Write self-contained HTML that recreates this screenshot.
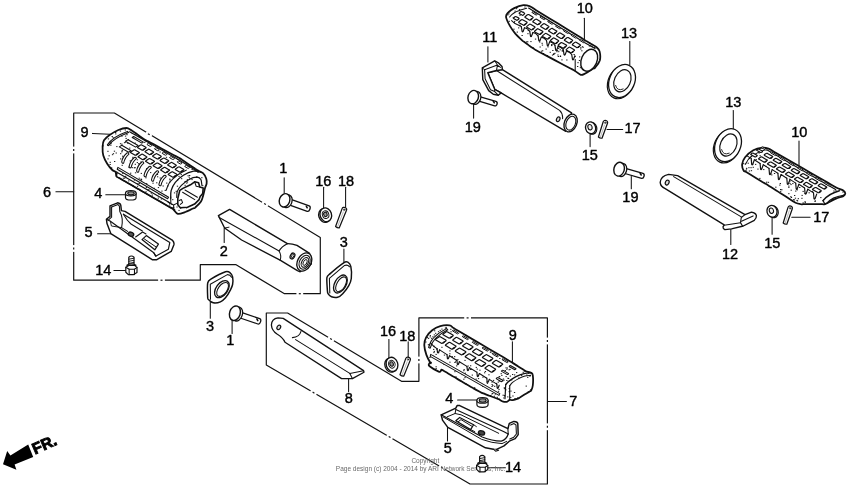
<!DOCTYPE html>
<html><head><meta charset="utf-8"><title>Parts diagram</title>
<style>
html,body{margin:0;padding:0;background:#fff;}
body{width:850px;height:492px;overflow:hidden;font-family:"Liberation Sans",sans-serif;}
svg{display:block;}
svg text{font-family:"Liberation Sans",sans-serif;}
</style></head><body>
<svg width="850" height="492" viewBox="0 0 850 492" stroke="#111" fill="none" stroke-linecap="round" stroke-linejoin="round">
<defs><filter id="gs" filterUnits="userSpaceOnUse" x="0" y="0" width="850" height="492" color-interpolation-filters="sRGB"><feColorMatrix type="saturate" values="0"/></filter></defs>
<rect x="0" y="0" width="850" height="492" fill="#fff" stroke="none"/>
<path d="M73.7,113 H114.4 L320.3,237.4 V293.7 H284.5 L235.7,264.6 H200.3 V280.2 H73.7 Z" stroke-width="1.18" fill="none" />
<path d="M266.3,313 H287.6 L401.5,381.3 H418.9 V317.9 H547.4 V484 H470 L266.3,365.1 Z" stroke-width="1.18" fill="none" />
<path d="M73.7,146.6 L73.7,153.4" stroke="#fff" stroke-width="3" stroke-linecap="butt"/>
<path d="M73.7,149.0 L73.7,151.0" stroke-width="1.2" stroke-linecap="butt"/>
<path d="M73.7,245.1 L73.7,251.9" stroke="#fff" stroke-width="3" stroke-linecap="butt"/>
<path d="M73.7,247.5 L73.7,249.5" stroke-width="1.2" stroke-linecap="butt"/>
<path d="M145.9,132.4 L151.7,136.0" stroke="#fff" stroke-width="3" stroke-linecap="butt"/>
<path d="M147.9,133.7 L149.7,134.7" stroke-width="1.2" stroke-linecap="butt"/>
<path d="M262.1,202.2 L267.9,205.8" stroke="#fff" stroke-width="3" stroke-linecap="butt"/>
<path d="M264.1,203.5 L265.9,204.5" stroke-width="1.2" stroke-linecap="butt"/>
<path d="M158.1,280.2 L164.9,280.2" stroke="#fff" stroke-width="3" stroke-linecap="butt"/>
<path d="M160.5,280.2 L162.5,280.2" stroke-width="1.2" stroke-linecap="butt"/>
<path d="M296.4,293.7 L303.2,293.7" stroke="#fff" stroke-width="3" stroke-linecap="butt"/>
<path d="M298.8,293.7 L300.8,293.7" stroke-width="1.2" stroke-linecap="butt"/>
<path d="M464.2,317.9 L471.0,317.9" stroke="#fff" stroke-width="3" stroke-linecap="butt"/>
<path d="M466.6,317.9 L468.6,317.9" stroke-width="1.2" stroke-linecap="butt"/>
<path d="M418.9,356.6 L418.9,363.4" stroke="#fff" stroke-width="3" stroke-linecap="butt"/>
<path d="M418.9,359.0 L418.9,361.0" stroke-width="1.2" stroke-linecap="butt"/>
<path d="M547.4,337.6 L547.4,344.4" stroke="#fff" stroke-width="3" stroke-linecap="butt"/>
<path d="M547.4,340.0 L547.4,342.0" stroke-width="1.2" stroke-linecap="butt"/>
<path d="M547.4,423.4 L547.4,430.2" stroke="#fff" stroke-width="3" stroke-linecap="butt"/>
<path d="M547.4,425.8 L547.4,427.8" stroke-width="1.2" stroke-linecap="butt"/>
<path d="M328.1,337.3 L333.9,340.7" stroke="#fff" stroke-width="3" stroke-linecap="butt"/>
<path d="M330.1,338.5 L331.9,339.5" stroke-width="1.2" stroke-linecap="butt"/>
<path d="M310.6,390.9 L316.4,394.4" stroke="#fff" stroke-width="3" stroke-linecap="butt"/>
<path d="M312.6,392.1 L314.4,393.2" stroke-width="1.2" stroke-linecap="butt"/>
<path d="M386.7,435.4 L392.5,438.8" stroke="#fff" stroke-width="3" stroke-linecap="butt"/>
<path d="M388.7,436.6 L390.5,437.6" stroke-width="1.2" stroke-linecap="butt"/>
<path d="M439.1,465.9 L444.9,469.4" stroke="#fff" stroke-width="3" stroke-linecap="butt"/>
<path d="M441.1,467.1 L442.9,468.2" stroke-width="1.2" stroke-linecap="butt"/>
<line x1="92.5" y1="133.4" x2="109.8" y2="134.2" stroke-width="1.05"/>
<line x1="55.9" y1="191.7" x2="73.7" y2="191.7" stroke-width="1.05"/>
<line x1="105.8" y1="194.8" x2="125.1" y2="194.8" stroke-width="1.05"/>
<line x1="97.6" y1="233.8" x2="110.8" y2="233.8" stroke-width="1.05"/>
<line x1="113.9" y1="270.4" x2="126.1" y2="270.4" stroke-width="1.05"/>
<line x1="224.2" y1="228" x2="224.2" y2="242.4" stroke-width="1.05"/>
<line x1="284.2" y1="177.8" x2="284.2" y2="193" stroke-width="1.05"/>
<line x1="323.6" y1="187.3" x2="323.6" y2="208.6" stroke-width="1.05"/>
<line x1="345.6" y1="187.3" x2="345.6" y2="207.6" stroke-width="1.05"/>
<line x1="343.9" y1="249.1" x2="343.9" y2="263.4" stroke-width="1.05"/>
<line x1="210.3" y1="299" x2="210.3" y2="318.3" stroke-width="1.05"/>
<line x1="232.1" y1="319.3" x2="232.1" y2="333.5" stroke-width="1.05"/>
<line x1="348.6" y1="378.3" x2="348.6" y2="391.5" stroke-width="1.05"/>
<line x1="388.9" y1="339.6" x2="388.9" y2="361" stroke-width="1.05"/>
<line x1="408.2" y1="341.7" x2="408.2" y2="359" stroke-width="1.05"/>
<line x1="512.4" y1="341.7" x2="512.4" y2="364" stroke-width="1.05"/>
<line x1="457.6" y1="399.9" x2="478" y2="399.9" stroke-width="1.05"/>
<line x1="447.5" y1="426.8" x2="447.5" y2="441" stroke-width="1.05"/>
<line x1="488.1" y1="467.8" x2="505.4" y2="467.8" stroke-width="1.05"/>
<line x1="547.7" y1="401.4" x2="566.4" y2="401.4" stroke-width="1.05"/>
<line x1="584.4" y1="18.3" x2="584.4" y2="39.7" stroke-width="1.05"/>
<line x1="487.9" y1="46.8" x2="487.9" y2="62" stroke-width="1.05"/>
<line x1="629.8" y1="41.4" x2="629.8" y2="64.7" stroke-width="1.05"/>
<line x1="473.6" y1="103.9" x2="473.6" y2="118.1" stroke-width="1.05"/>
<line x1="590.1" y1="133.4" x2="590.1" y2="146.6" stroke-width="1.05"/>
<line x1="607.0" y1="129.4" x2="622.7" y2="129.4" stroke-width="1.05"/>
<line x1="631.3" y1="176.6" x2="631.3" y2="188.8" stroke-width="1.05"/>
<line x1="733.3" y1="110.5" x2="733.3" y2="128.8" stroke-width="1.05"/>
<line x1="799" y1="141" x2="799" y2="165.4" stroke-width="1.05"/>
<line x1="730.8" y1="229.1" x2="730.8" y2="244.4" stroke-width="1.05"/>
<line x1="772.1" y1="218" x2="772.1" y2="234.2" stroke-width="1.05"/>
<line x1="791.8" y1="217.3" x2="810.1" y2="217.3" stroke-width="1.05"/>
<g stroke="#000" stroke-width="0.4" fill="#000" font-size="14.5px" filter="url(#gs)">
<text x="80.55" y="136.60">9</text>
<text x="43.05" y="196.70">6</text>
<text x="94.35" y="198.30">4</text>
<text x="84.55" y="237.10">5</text>
<text x="95.15" y="274.60">14</text>
<text x="219.75" y="255.50">2</text>
<text x="279.35" y="172.80">1</text>
<text x="315.15" y="186.10">16</text>
<text x="337.95" y="186.10">18</text>
<text x="339.75" y="247.10">3</text>
<text x="205.95" y="331.10">3</text>
<text x="226.15" y="345.10">1</text>
<text x="344.75" y="403.10">8</text>
<text x="379.95" y="335.70">16</text>
<text x="399.15" y="340.80">18</text>
<text x="508.75" y="339.80">9</text>
<text x="445.15" y="402.90">4</text>
<text x="443.75" y="452.90">5</text>
<text x="505.05" y="472.10">14</text>
<text x="569.15" y="405.90">7</text>
<text x="576.75" y="13.30">10</text>
<text x="482.15" y="41.80">11</text>
<text x="621.05" y="38.00">13</text>
<text x="464.75" y="131.80">19</text>
<text x="581.75" y="160.20">15</text>
<text x="624.55" y="133.30">17</text>
<text x="622.35" y="202.10">19</text>
<text x="725.15" y="106.50">13</text>
<text x="791.25" y="137.10">10</text>
<text x="722.05" y="258.70">12</text>
<text x="764.15" y="248.10">15</text>
<text x="813.15" y="222.10">17</text>
</g>
<g stroke="none" fill="#000" filter="url(#gs)">
<path d="M3,464.2 L7.2,451 L10.4,455.6 L28.2,444.4 L33.2,457 L14.6,464.6 L16.4,469.8 Z"/>
<text transform="translate(35.0,454.4) rotate(-24)" font-size="15.5px" font-weight="bold" stroke="#000" stroke-width="0.9" stroke-linejoin="miter" x="0" y="0">FR.</text>
</g>
<g stroke="none" fill="#6a6a6a" font-size="6.5px" text-anchor="middle" filter="url(#gs)">
<text x="425.3" y="463">Copyright</text>
<text x="420.6" y="470.8">Page design (c) 2004 - 2014 by ARI Network Services, Inc.</text>
</g>
<path d="M288.4,204.7 L307.2,211.3 C309.5,212.1 311.4,206.7 309.2,205.9 L290.3,199.2" stroke-width="1.30" fill="#fff" />
<path d="M306.3,206.2 l0.9,1.6" stroke-width="1.53" fill="none" />
<ellipse cx="287.3" cy="201.3" rx="4.680000000000001" ry="6.528" transform="rotate(19.4 287.3 201.3)" stroke-width="1.30" fill="#fff"/>
<ellipse cx="284.6" cy="200.3" rx="5.2" ry="6.8" transform="rotate(19.4 284.6 200.3)" stroke-width="1.42" fill="#fff"/>
<path d="M238.7,317.5 L257.9,324.0 C260.2,324.7 262.0,319.4 259.7,318.6 L240.5,312.2" stroke-width="1.30" fill="#fff" />
<path d="M256.9,319.0 l0.9,1.6" stroke-width="1.53" fill="none" />
<ellipse cx="237.6" cy="314.1" rx="4.77" ry="7.104" transform="rotate(18.7 237.6 314.1)" stroke-width="1.30" fill="#fff"/>
<ellipse cx="234.9" cy="313.2" rx="5.3" ry="7.4" transform="rotate(18.7 234.9 313.2)" stroke-width="1.42" fill="#fff"/>
<path d="M477.3,100.7 L494.7,105.8 C497.0,106.5 498.3,102.1 495.9,101.4 L478.6,96.3" stroke-width="1.30" fill="#fff" />
<path d="M493.3,101.3 l1.0,1.5" stroke-width="1.53" fill="none" />
<ellipse cx="476.0" cy="97.9" rx="4.680000000000001" ry="6.528" transform="rotate(16.4 476.0 97.9)" stroke-width="1.30" fill="#fff"/>
<ellipse cx="473.2" cy="97.1" rx="5.2" ry="6.8" transform="rotate(16.4 473.2 97.1)" stroke-width="1.42" fill="#fff"/>
<path d="M623.2,173.0 L641.6,178.3 C643.9,178.9 645.3,174.0 643.0,173.3 L624.6,168.1" stroke-width="1.30" fill="#fff" />
<path d="M640.2,173.5 l1.0,1.5" stroke-width="1.53" fill="none" />
<ellipse cx="621.9" cy="170.0" rx="4.680000000000001" ry="6.72" transform="rotate(15.9 621.9 170.0)" stroke-width="1.30" fill="#fff"/>
<ellipse cx="619.1" cy="169.2" rx="5.2" ry="7.0" transform="rotate(15.9 619.1 169.2)" stroke-width="1.42" fill="#fff"/>
<ellipse cx="324.5" cy="215.5" rx="5.7" ry="7.0" transform="rotate(-18 324.5 215.5)" stroke-width="1.30" fill="#fff"/>
<ellipse cx="325.8" cy="214.8" rx="5.7" ry="7.0" transform="rotate(-18 325.8 214.8)" stroke-width="1.36" fill="#fff"/>
<ellipse cx="325.6" cy="214.60000000000002" rx="3.1920000000000006" ry="3.9200000000000004" transform="rotate(-18 325.6 214.60000000000002)" stroke-width="0.94" fill="#fff"/>
<ellipse cx="325.40000000000003" cy="214.4" rx="1.71" ry="2.24" transform="rotate(-18 325.40000000000003 214.4)" stroke-width="1.06" fill="#999"/>
<ellipse cx="390.7" cy="365.09999999999997" rx="5.8" ry="7.2" transform="rotate(-18 390.7 365.09999999999997)" stroke-width="1.30" fill="#fff"/>
<ellipse cx="392.0" cy="364.4" rx="5.8" ry="7.2" transform="rotate(-18 392.0 364.4)" stroke-width="1.36" fill="#fff"/>
<ellipse cx="391.8" cy="364.2" rx="3.248" ry="4.032000000000001" transform="rotate(-18 391.8 364.2)" stroke-width="0.94" fill="#fff"/>
<ellipse cx="391.6" cy="364.0" rx="1.74" ry="2.3040000000000003" transform="rotate(-18 391.6 364.0)" stroke-width="1.06" fill="#999"/>
<ellipse cx="591.8000000000001" cy="128.3" rx="5.0" ry="6.0" transform="rotate(-15 591.8000000000001 128.3)" stroke-width="1.18" fill="#fff"/>
<ellipse cx="590.6" cy="127.8" rx="5.0" ry="6.0" transform="rotate(-15 590.6 127.8)" stroke-width="1.30" fill="#fff"/>
<ellipse cx="590.0" cy="127.2" rx="2.1" ry="2.7600000000000002" transform="rotate(-15 590.0 127.2)" stroke-width="1.06" fill="#eee"/>
<ellipse cx="773.2" cy="211.8" rx="5.0" ry="6.0" transform="rotate(-15 773.2 211.8)" stroke-width="1.18" fill="#fff"/>
<ellipse cx="772.0" cy="211.3" rx="5.0" ry="6.0" transform="rotate(-15 772.0 211.3)" stroke-width="1.30" fill="#fff"/>
<ellipse cx="771.4" cy="210.70000000000002" rx="2.1" ry="2.7600000000000002" transform="rotate(-15 771.4 210.70000000000002)" stroke-width="1.06" fill="#eee"/>
<path d="M335.6,226.5 L342.1,208.6 C343.1,206.0 347.5,207.7 346.5,210.3 L339.2,227.9 Q337.1,228.0 335.6,226.5 Z" stroke-width="1.24" fill="#fff" />
<path d="M343.3,211.9 L337.6,226.6" stroke="#8a8a8a" stroke-width="0.6"/>
<ellipse cx="344.2" cy="209.7" rx="0.7" ry="0.9" transform="rotate(0 344.2 209.7)" stroke-width="0.71" fill="#fff"/>
<path d="M400.0,374.7 L405.8,358.4 C406.8,355.8 411.3,357.5 410.3,360.1 L403.8,376.1 Q401.6,376.2 400.0,374.7 Z" stroke-width="1.24" fill="#fff" />
<path d="M407.2,361.7 L402.1,374.8" stroke="#8a8a8a" stroke-width="0.6"/>
<ellipse cx="408.0" cy="359.5" rx="0.7" ry="0.9" transform="rotate(0 408.0 359.5)" stroke-width="0.71" fill="#fff"/>
<path d="M598.4,137.0 L603.2,121.8 C604.1,119.1 608.4,120.6 607.5,123.2 L602.0,138.2 Q599.9,138.5 598.4,137.0 Z" stroke-width="1.24" fill="#fff" />
<path d="M604.5,125.0 L600.4,137.0" stroke="#8a8a8a" stroke-width="0.6"/>
<ellipse cx="605.3" cy="122.7" rx="0.7" ry="0.9" transform="rotate(0 605.3 122.7)" stroke-width="0.71" fill="#fff"/>
<path d="M783.2,223.0 L788.0,207.4 C788.9,204.7 793.2,206.2 792.3,208.8 L786.8,224.2 Q784.7,224.5 783.2,223.0 Z" stroke-width="1.24" fill="#fff" />
<path d="M789.3,210.6 L785.2,223.0" stroke="#8a8a8a" stroke-width="0.6"/>
<ellipse cx="790.1" cy="208.3" rx="0.7" ry="0.9" transform="rotate(0 790.1 208.3)" stroke-width="0.71" fill="#fff"/>
<path d="M125.50000000000001,193.2 v4.2 a5.3,2.6 0 0 0 10.6,0 v-4.2" stroke-width="1.18" fill="#fff" />
<ellipse cx="130.8" cy="193.2" rx="5.3" ry="2.6" transform="rotate(0 130.8 193.2)" stroke-width="1.18" fill="#fff"/>
<ellipse cx="131.0" cy="193.29999999999998" rx="3.286" ry="1.56" transform="rotate(0 131.0 193.29999999999998)" stroke-width="1.06" fill="#999"/>
<path d="M476.9,400.4 v4.2 a5.6,2.8 0 0 0 11.2,0 v-4.2" stroke-width="1.18" fill="#fff" />
<ellipse cx="482.5" cy="400.4" rx="5.6" ry="2.8" transform="rotate(0 482.5 400.4)" stroke-width="1.18" fill="#fff"/>
<ellipse cx="482.7" cy="400.5" rx="3.472" ry="1.68" transform="rotate(0 482.7 400.5)" stroke-width="1.06" fill="#999"/>
<path d="M128.8,264.6 V257.2 Q131.4,254.8 134.0,257.2 V264.6" stroke-width="1.18" fill="#fff" />
<path d="M128.8,259.2 L134.0,258.2" stroke-width="0.94" fill="none" />
<path d="M128.8,261.3 L134.0,260.3" stroke-width="0.94" fill="none" />
<path d="M128.8,263.4 L134.0,262.4" stroke-width="0.94" fill="none" />
<path d="M126.80000000000001,265.20000000000005 Q131.4,262.40000000000003 136.0,265.20000000000005 Q131.4,267.8 126.80000000000001,265.20000000000005 Z" stroke-width="1.18" fill="#fff" />
<path d="M125.80000000000001,267.20000000000005 L128.88,265.40000000000003 L134.48000000000002,265.40000000000003 L137.0,267.40000000000003 L137.0,272.40000000000003 L133.64000000000001,274.6 L128.32,274.6 L125.80000000000001,272.20000000000005 Z" stroke-width="1.18" fill="#fff" />
<path d="M125.80000000000001,267.20000000000005 L129.16,269.20000000000005 L134.48000000000002,269.20000000000005 L137.0,267.40000000000003" stroke-width="1.06" fill="none" />
<path d="M129.16,269.20000000000005 V274.6 M134.48000000000002,269.20000000000005 V274.6" stroke-width="1.06" fill="none" />
<path d="M479.59999999999997,462.6 V456.59999999999997 Q482.2,454.2 484.8,456.59999999999997 V462.6" stroke-width="1.18" fill="#fff" />
<path d="M479.59999999999997,458.6 L484.8,457.6" stroke-width="0.94" fill="none" />
<path d="M479.59999999999997,460.7 L484.8,459.7" stroke-width="0.94" fill="none" />
<path d="M477.59999999999997,463.20000000000005 Q482.2,460.40000000000003 486.8,463.20000000000005 Q482.2,465.8 477.59999999999997,463.20000000000005 Z" stroke-width="1.18" fill="#fff" />
<path d="M476.59999999999997,465.20000000000005 L479.68,463.40000000000003 L485.28,463.40000000000003 L487.8,465.40000000000003 L487.8,469.6 L484.44,471.8 L479.12,471.8 L476.59999999999997,469.40000000000003 Z" stroke-width="1.18" fill="#fff" />
<path d="M476.59999999999997,465.20000000000005 L479.96,467.20000000000005 L485.28,467.20000000000005 L487.8,465.40000000000003" stroke-width="1.06" fill="none" />
<path d="M479.96,467.20000000000005 V471.8 M485.28,467.20000000000005 V471.8" stroke-width="1.06" fill="none" />
<path d="M326.9,277.6 C327.3,275.3 328.3,275.4 330.5,273.4 C332.7,271.4 341.4,264.3 343.7,262.8 C346.0,261.3 346.9,261.7 347.8,262.2 C348.7,262.7 350.3,264.1 350.8,266.3 C351.3,268.5 351.6,275.9 351.3,278.5 C351.0,281.1 349.9,283.6 348.8,285.6 C347.7,287.6 344.2,292.1 342.7,293.7 C341.2,295.3 339.1,296.9 337.6,297.3 C336.1,297.7 332.8,297.3 331.5,296.8 C330.2,296.3 328.5,294.5 328.0,293.7 C327.5,292.9 327.5,292.8 327.4,290.7 C327.3,288.6 326.5,279.9 326.9,277.6 Z" stroke-width="1.47" fill="#fff" />
<path d="M329.4,278.4 L344.6,265.4 Q347.6,264.4 349.6,266.8 M329.4,278.4 L329.8,293.0" stroke-width="1.06" fill="none" />
<ellipse cx="340.4" cy="284.0" rx="5.6" ry="9.8" transform="rotate(30 340.4 284.0)" stroke-width="1.36" fill="#fff"/>
<ellipse cx="341.1" cy="284.3" rx="4.199999999999999" ry="8.200000000000001" transform="rotate(30 341.1 284.3)" stroke-width="1.06" fill="#fff"/>
<path d="M207.7,283.0 C208.2,280.5 208.9,280.4 211.3,278.9 C213.7,277.4 223.0,272.6 225.5,271.8 C228.0,271.0 229.2,272.1 230.1,272.8 C231.0,273.5 232.3,275.3 232.6,276.9 C232.9,278.5 232.9,282.8 232.6,284.5 C232.3,286.2 231.5,287.8 230.6,289.6 C229.7,291.4 226.9,296.1 225.5,297.7 C224.1,299.3 222.0,301.1 220.4,301.8 C218.8,302.5 214.9,303.1 213.3,302.8 C211.7,302.5 209.4,300.4 208.7,299.7 C208.0,299.0 207.8,299.9 207.7,297.7 C207.6,295.5 207.2,285.5 207.7,283.0 Z" stroke-width="1.47" fill="#fff" />
<path d="M210.3,284.2 L227.4,274.6 Q230.2,274.6 231.6,277.2 M210.3,284.2 L210.5,299.2" stroke-width="1.06" fill="none" />
<ellipse cx="221.9" cy="289.1" rx="5.8" ry="9.6" transform="rotate(36 221.9 289.1)" stroke-width="1.36" fill="#fff"/>
<ellipse cx="222.6" cy="289.4" rx="4.4" ry="8.0" transform="rotate(36 222.6 289.4)" stroke-width="1.06" fill="#fff"/>
<ellipse cx="620.8" cy="82.2" rx="12.6" ry="17.2" transform="rotate(24 620.8 82.2)" stroke-width="1.18" fill="#fff"/>
<ellipse cx="622.0" cy="81.0" rx="12.6" ry="17.2" transform="rotate(24 622.0 81.0)" stroke-width="1.30" fill="#fff"/>
<ellipse cx="622.4" cy="80.8" rx="8.0" ry="11.6" transform="rotate(24 622.4 80.8)" stroke-width="1.18" fill="#fff"/>
<path d="M615.6,85.4 Q617.0,91.6 623.2,89.0" stroke-width="0.9"/>
<ellipse cx="726.8" cy="146.39999999999998" rx="12.6" ry="17.2" transform="rotate(24 726.8 146.39999999999998)" stroke-width="1.18" fill="#fff"/>
<ellipse cx="728.0" cy="145.2" rx="12.6" ry="17.2" transform="rotate(24 728.0 145.2)" stroke-width="1.30" fill="#fff"/>
<ellipse cx="728.4" cy="145.0" rx="8.0" ry="11.6" transform="rotate(24 728.4 145.0)" stroke-width="1.18" fill="#fff"/>
<path d="M721.6,149.6 Q723.0,155.8 729.2,153.2" stroke-width="0.9"/>
<path d="M218.4,215.6 L229.6,209.4 L287.4,243.7 Q292,243.6 297.0,245.4 L309.6,253.4 L311.4,264.0 L300.2,271.8 L297.4,270.7 L280.1,260.2 L241.6,240.0 L224.6,228.0 Z" stroke-width="1.36" fill="#fff" />
<path d="M219.2,217.4 L279.1,251.0 Q281.6,246.4 287.4,243.7" stroke-width="1.12" fill="none" />
<path d="M279.1,251.0 Q281.8,255.8 280.1,260.2" stroke-width="1.06" fill="none" />
<path d="M224.6,228.0 L229,227.2" stroke-width="0.94" fill="none" />
<ellipse cx="304.3" cy="262.0" rx="6.8" ry="9.6" transform="rotate(28 304.3 262.0)" stroke-width="1.36" fill="#fff"/>
<ellipse cx="304.6" cy="262.2" rx="5.0" ry="7.4" transform="rotate(28 304.6 262.2)" stroke-width="1.06" fill="#fff"/>
<ellipse cx="304.9" cy="262.4" rx="3.2" ry="5.2" transform="rotate(28 304.9 262.4)" stroke-width="1.06" fill="#eee"/>
<ellipse cx="305.1" cy="262.5" rx="1.7" ry="3.2" transform="rotate(28 305.1 262.5)" stroke-width="0.83" fill="#fff"/>
<ellipse cx="292.5" cy="256.0" rx="2.1" ry="3.1" transform="rotate(28 292.5 256.0)" stroke-width="1.30" fill="#ddd"/>
<ellipse cx="292.8" cy="256.1" rx="1.0" ry="1.9" transform="rotate(28 292.8 256.1)" stroke-width="0.83" fill="#fff"/>
<path d="M271.4,325.0 Q271.6,318.6 278.0,317.8 L283.2,318.4 L363.6,370.6 L364.0,372.2 L352.4,378.6 L341.6,378.6 L285.0,342.2 Q283.0,337.6 277.0,334.0 Q271.8,330.6 271.4,325.0 Z" stroke-width="1.30" fill="#fff" />
<path d="M292.4,337.6 Q299.4,337.2 301.0,331.4" stroke-width="1.06" fill="none" />
<path d="M295.6,339.6 L349.8,373.4 L363.6,370.8" stroke-width="1.06" fill="none" />
<path d="M349.8,373.4 L352.4,378.6" stroke-width="1.06" fill="none" />
<ellipse cx="278.8" cy="327.4" rx="1.7" ry="2.4" transform="rotate(30 278.8 327.4)" stroke-width="1.18" fill="#ddd"/>
<path d="M502.4,69.6 L571.6,112.8 L565.8,131.4 L501.1,92.9 L494.7,89.3 L487.8,72.8 L496.5,70.5 Z" stroke-width="1.36" fill="#fff" />
<path d="M496.5,70.5 L559.6,110.4 Q563.0,113.6 562.6,118.6" stroke-width="1.06" fill="none" />
<path d="M482.8,79.7 L482.3,67.8 L494.7,60.9 L498.8,63.2 L502.0,66.4 L502.4,69.6 L496.5,70.5 L487.8,72.8 L494.7,89.3 L501.1,92.9 L498.3,95.2 L493.3,94.3 L488.7,90.6 Z" stroke-width="1.42" fill="#fff" />
<path d="M484.6,69.8 L497.4,65.1 L500.4,67.4 M497.4,65.1 L496.5,70.5" stroke-width="1.06" fill="none" />
<path d="M484.6,69.8 L485.1,78.8 L490.5,89.7 L494.7,91.6 L498.3,95.2 M494.7,91.6 L494.7,89.3" stroke-width="1.06" fill="none" />
<path d="M482.3,67.8 L484.6,69.8 M494.7,60.9 L497.4,65.1" stroke-width="0.94" fill="none" />
<ellipse cx="570.6" cy="123.0" rx="6.2" ry="9.2" transform="rotate(22 570.6 123.0)" stroke-width="1.36" fill="#fff"/>
<ellipse cx="570.8" cy="123.2" rx="4.6" ry="7.2" transform="rotate(22 570.8 123.2)" stroke-width="1.06" fill="#fff"/>
<ellipse cx="558.2" cy="119.2" rx="1.6" ry="2.5" transform="rotate(25 558.2 119.2)" stroke-width="1.18" fill="#ddd"/>
<path d="M660.2,182.4 Q660.6,176.2 668.6,174.4 L677.6,175.6 L745.0,214.6 L751.5,212.2 Q755.6,212.6 756.4,215.6 Q756.6,218.4 754.3,220.3 L743.3,226.0 L731.5,228.9 L725.0,229.7 Q722.8,228.6 723.0,226.8 L724.2,224.8 L665.2,188.6 Q660.4,186.4 660.2,182.4 Z" stroke-width="1.36" fill="#fff" />
<path d="M673.6,176.6 L741.3,216.9" stroke-width="1.06" fill="none" />
<path d="M745.0,214.6 L741.3,217.5 L740.5,222.6 L742.5,226.0" stroke-width="1.12" fill="none" />
<path d="M741.5,221.2 L753.1,215.9" stroke-width="1.06" fill="none" />
<path d="M724.2,225.2 L740.5,222.8" stroke-width="1.06" fill="none" />
<ellipse cx="667.2" cy="182.6" rx="1.8" ry="2.5" transform="rotate(25 667.2 182.6)" stroke-width="1.18" fill="#ddd"/>
<path d="M110.0,205.8 L117.6,202.8 Q120.4,203.2 120.8,205.4 L121.4,210.6 L125.0,211.4 L172.6,240.4 Q174.6,242.6 173.8,245.0 L171.2,251.4 L156.4,259.8 L152.6,259.8 L110.8,233.6 L107.0,223.6 L106.4,219.2 L110.0,216.4 Z" stroke-width="1.42" fill="#fff" />
<path d="M111.6,207.0 L118.0,204.6 L119.4,206.2 L119.8,211.6 Q123.6,218.0 121.6,227.6" stroke-width="1.06" fill="none" />
<path d="M111.6,207.0 L111.6,217.2 L108.6,219.8" stroke-width="1.06" fill="none" />
<path d="M106.6,219.4 L110.4,221.2 L153.8,252.8 L156.0,256.0" stroke-width="1.18" fill="none" />
<path d="M110.4,221.2 L111.4,226.0 L121.6,227.6" stroke-width="0.94" fill="none" />
<path d="M123.4,214.2 L169.8,242.6 L168.4,249.2 L155.6,256.2 L153.8,252.8" stroke-width="1.18" fill="none" />
<path d="M123.4,214.2 Q127.0,220.6 131.0,224.0 L142.4,231.0" stroke-width="1.06" fill="none" />
<path d="M121.6,227.6 L127.6,231.4 M135.6,237.0 L142.6,232.0 L146.0,234.0" stroke-width="1.06" fill="none" />
<path d="M142.0,239.6 L146.3,235.6 L158.4,244.1 L154.8,249.8 Z" stroke-width="1.24" fill="#fff" />
<path d="M144.4,239.0 L155.8,246.8" stroke-width="1.00" fill="none" />
<ellipse cx="131.0" cy="234.2" rx="2.8" ry="2.0" transform="rotate(20 131.0 234.2)" stroke-width="1.30" fill="#555"/>
<path d="M441.2,414.8 L455.8,408.2 L457.1,405.6 L459.7,405.6 L507.9,428.7 L509.3,423.4 L513.9,421.4 Q517.6,421.6 517.8,423.6 L518.2,434.6 L515.2,438.6 L509.3,441.2 L504.0,445.9 L496.1,449.6 L493.4,449.2 L485.5,447.8 L447.8,427.4 L442.5,420.1 Z" stroke-width="1.47" fill="#fff" />
<path d="M441.2,414.8 L482.2,437.0 Q492.0,441.0 501.3,441.2 Q506.6,439.4 508.2,434.0" stroke-width="1.24" fill="none" />
<path d="M443.2,417.0 L481.5,439.3 Q492.0,443.2 502.0,443.6 L506.6,441.4" stroke-width="1.00" fill="none" />
<path d="M455.8,409.5 L504.0,431.7 L508.2,434.0" stroke-width="1.18" fill="none" />
<path d="M455.8,409.5 L455.1,413.5 L447.2,416.8 M455.1,413.5 L461.0,414.8 L498.7,433.3" stroke-width="1.00" fill="none" />
<path d="M510.6,425.0 L514.0,423.6 L516.0,425.0 L516.4,434.0 L513.8,437.2 L509.8,439.0 M507.9,428.7 L508.2,434.0" stroke-width="1.06" fill="none" />
<path d="M455.8,420.8 L459.7,417.5 L473.6,424.7 L470.6,429.6 Z" stroke-width="1.24" fill="#fff" />
<path d="M458.4,421.6 L461.0,419.6 L471.8,426.2" stroke-width="1.00" fill="none" />
<path d="M473.6,424.7 L476.4,426.6 M470.6,429.6 L474.8,431.6" stroke-width="0.94" fill="none" />
<ellipse cx="481.5" cy="432.9" rx="3.2" ry="2.0" transform="rotate(15 481.5 432.9)" stroke-width="1.30" fill="#444"/>
<path d="M493.4,449.2 L495.6,451.2 L498.6,450.2 L496.1,449.6" stroke-width="1.06" fill="#fff" />
<path d="M112.3,170.0 C110.9,168.6 108.7,166.1 107.2,163.7 C105.7,161.3 104.1,158.5 103.3,155.6 C102.5,152.7 102.5,148.9 102.6,146.4 C102.7,143.9 102.8,142.2 104.0,140.3 C105.2,138.4 107.2,136.7 109.6,135.0 C112.0,133.3 115.6,131.2 118.4,130.0 C121.2,128.8 124.4,128.0 126.5,128.0 C128.6,128.0 130.0,129.5 131.0,130.0 C132.0,130.5 131.5,130.3 132.5,131.1 C133.6,131.8 135.8,133.4 137.4,134.5 C139.0,135.6 141.2,137.2 142.3,137.9 C143.3,138.7 142.8,138.4 143.8,139.0 C144.8,139.6 145.1,139.7 148.1,141.3 C151.2,142.9 157.3,146.2 161.9,148.7 C166.5,151.2 172.6,154.5 175.7,156.1 C178.7,157.7 178.9,157.8 180.0,158.4 C181.1,159.0 180.6,158.8 182.0,159.8 C183.5,160.8 186.3,162.7 188.5,164.2 C190.7,165.7 193.5,167.6 195.0,168.6 C196.4,169.6 195.7,169.2 197.0,170.0 C198.3,170.8 201.5,171.8 203.0,173.2 C204.5,174.6 205.6,176.8 206.2,178.5 C206.8,180.2 206.8,182.1 206.6,183.6 C206.4,185.1 205.8,185.6 205.2,187.6 C204.6,189.6 203.9,193.1 203.2,195.4 C202.5,197.7 202.3,199.5 201.0,201.5 C199.7,203.5 196.3,206.5 195.1,207.6 C193.9,208.7 194.7,207.8 193.9,208.2 C193.0,208.5 191.3,209.3 190.1,209.9 C188.8,210.5 187.1,211.3 186.2,211.6 C185.4,212.0 186.4,211.8 185.0,212.2 C183.6,212.6 179.8,214.3 177.8,213.8 C175.8,213.3 174.5,210.2 173.0,209.0 C171.5,207.8 171.8,208.3 169.0,206.7 C166.3,205.1 160.7,201.9 156.5,199.5 C152.3,197.1 146.7,193.9 144.0,192.3 C141.2,190.7 141.1,190.7 140.0,190.0 C138.9,189.3 139.1,189.5 137.2,188.4 C135.2,187.2 131.2,184.9 128.2,183.2 C125.2,181.5 121.2,179.2 119.2,178.0 C117.3,176.9 117.0,177.4 116.4,176.4 C115.8,175.4 116.3,173.1 115.6,172.0 C114.9,170.9 113.7,171.4 112.3,170.0 Z" stroke-width="1.77" fill="#fff" />
<path d="M127.3,174.7h0.3M141.1,179.8h0.3M129.6,148.1h0.3M168.6,202.5h0.3M157.0,191.6h0.3M181.5,178.7h0.3M192.6,168.6h0.3M177.4,203.4h0.3M176.9,207.0h0.3M116.7,146.6h0.3M139.1,178.2h0.3M173.5,207.7h0.3M196.7,176.8h0.3M189.1,177.2h0.3M132.2,133.4h0.3M145.3,140.9h0.3M134.8,134.6h0.3M123.1,163.0h0.3M150.5,172.6h0.3M169.6,179.1h0.3M160.8,181.2h0.3M147.4,189.8h0.3M127.3,153.8h0.3M145.8,177.8h0.3M176.1,191.3h0.3M128.7,167.2h0.3M141.0,179.1h0.3M133.8,160.4h0.3M161.8,191.1h0.3M122.1,165.3h0.3M137.6,183.8h0.3M126.0,138.4h0.3M186.5,199.9h0.3M121.7,151.9h0.3M186.6,183.1h0.3M116.1,153.0h0.3M138.6,163.8h0.3M180.1,199.8h0.3M132.7,157.3h0.3M126.3,133.8h0.3M196.6,187.5h0.3M196.2,177.5h0.3M120.5,153.7h0.3M166.3,157.3h0.3M152.2,195.1h0.3M158.2,198.1h0.3M198.5,197.2h0.3M168.0,202.0h0.3M107.8,151.3h0.3M130.5,173.2h0.3M146.6,168.6h0.3M108.3,138.9h0.3M115.6,133.9h0.3M139.1,183.5h0.3M122.5,156.2h0.3M110.9,143.3h0.3M141.4,179.9h0.3M185.9,181.4h0.3M154.2,188.3h0.3M146.3,187.6h0.3M158.3,187.6h0.3M110.0,164.5h0.3M196.0,195.9h0.3M129.9,167.8h0.3M171.5,204.1h0.3M185.0,185.3h0.3M178.9,176.4h0.3M112.1,136.5h0.3M172.6,199.7h0.3M201.7,177.7h0.3M180.5,208.2h0.3M109.0,155.8h0.3M161.3,199.0h0.3M127.8,143.4h0.3M128.6,180.9h0.3M140.8,162.0h0.3M139.0,163.9h0.3M174.4,192.9h0.3M152.9,183.2h0.3M197.9,172.4h0.3M148.7,189.7h0.3M122.0,150.9h0.3M123.3,178.2h0.3M174.5,209.8h0.3M125.2,130.0h0.3M120.5,158.9h0.3M152.5,179.4h0.3M188.0,175.8h0.3M152.7,189.8h0.3M178.9,210.4h0.3M122.3,150.2h0.3M191.9,205.2h0.3M135.2,164.3h0.3M132.9,158.6h0.3M163.0,186.0h0.3M148.0,169.7h0.3M124.5,178.2h0.3M182.9,193.0h0.3M133.3,186.0h0.3M170.6,197.2h0.3M202.6,185.7h0.3M177.3,186.2h0.3M169.7,182.1h0.3M164.7,175.6h0.3M135.1,143.1h0.3M181.1,174.6h0.3M179.5,158.8h0.3M130.2,160.9h0.3M137.2,162.6h0.3M158.9,194.2h0.3M114.3,151.2h0.3M113.0,137.7h0.3M183.6,190.4h0.3M121.8,144.2h0.3M145.9,191.8h0.3M187.4,192.2h0.3M157.5,176.8h0.3M123.6,149.5h0.3M186.1,204.5h0.3M160.1,178.0h0.3M192.0,169.5h0.3M165.1,190.4h0.3M122.7,173.4h0.3M185.0,181.5h0.3M107.9,158.9h0.3M126.9,134.7h0.3M191.9,179.6h0.3M199.0,189.4h0.3M186.5,207.9h0.3M110.7,145.2h0.3M119.3,170.7h0.3M146.5,183.7h0.3M134.3,167.8h0.3M177.4,159.5h0.3M141.2,173.4h0.3M102.9,145.9h0.3M124.4,142.7h0.3M144.6,142.4h0.3M120.1,170.1h0.3M125.4,136.1h0.3M115.5,132.5h0.3M128.6,150.8h0.3M187.3,182.0h0.3M138.5,136.0h0.3M120.3,131.1h0.3M186.2,206.7h0.3M134.3,180.1h0.3M114.5,161.5h0.3M137.4,186.3h0.3M179.5,191.0h0.3M189.5,175.5h0.3M130.6,142.6h0.3M177.5,180.0h0.3M151.2,193.1h0.3M169.4,203.4h0.3M195.9,190.9h0.3M137.3,159.8h0.3M110.1,162.3h0.3M127.6,132.2h0.3M125.5,176.3h0.3M165.5,195.7h0.3M121.1,134.8h0.3M111.5,167.9h0.3M166.6,183.1h0.3M181.8,202.8h0.3M138.6,179.7h0.3M189.5,179.0h0.3M138.6,169.6h0.3M170.0,180.0h0.3M124.9,158.1h0.3M125.3,142.2h0.3M199.4,190.3h0.3M121.8,136.2h0.3M156.6,182.8h0.3M131.3,165.1h0.3M113.3,153.7h0.3M141.3,141.8h0.3M135.0,167.7h0.3M157.3,174.5h0.3M132.3,167.7h0.3M194.8,197.3h0.3M116.3,173.5h0.3M107.8,145.5h0.3M112.4,154.7h0.3M167.9,185.9h0.3M197.5,197.4h0.3M128.3,139.6h0.3M181.5,195.7h0.3M160.0,152.0h0.3M169.5,205.0h0.3M171.8,207.7h0.3M187.3,179.7h0.3M145.7,172.5h0.3M120.4,143.7h0.3M139.2,167.0h0.3M135.4,172.8h0.3" stroke-width="0.9" stroke="#000" stroke-linecap="square"/>
<path d="M129.6,131.8 L180.0,160.6 L196.6,171.0" stroke-width="1.18" fill="none" />
<path d="M107.4,144.8 Q112.0,137.0 127.4,131.4 L128.6,132.6 Q113.0,138.6 108.6,145.6 Z" stroke-width="1.06" fill="#fff" />
<path d="M133.7,136.5 L143.4,142.1 L141.9,143.1 L132.2,137.5 Z" stroke-width="1.06" fill="#fff" />
<path d="M128.0,139.7 L138.1,145.5 L135.6,147.1 L125.5,141.3 Z" stroke-width="1.06" fill="#fff" />
<path d="M121.8,145.3 L131.1,150.7 L128.6,152.3 L119.3,146.9 Z" stroke-width="1.06" fill="#fff" />
<path d="M147.9,143.5 Q148.3,143.2 148.8,143.5 L151.7,145.2 Q152.1,145.5 151.7,145.7 L150.9,146.3 Q150.5,146.6 150.0,146.3 L147.1,144.6 Q146.7,144.3 147.1,144.1 Z" stroke-width="1.00" fill="#fff" />
<path d="M155.5,147.9 Q155.9,147.6 156.3,147.9 L159.3,149.6 Q159.7,149.9 159.3,150.1 L158.4,150.7 Q158.0,151.0 157.6,150.7 L154.6,149.0 Q154.2,148.7 154.6,148.5 Z" stroke-width="1.00" fill="#fff" />
<path d="M163.0,152.3 Q163.4,152.0 163.9,152.3 L166.8,154.0 Q167.2,154.3 166.8,154.5 L166.0,155.1 Q165.6,155.4 165.1,155.1 L162.2,153.4 Q161.8,153.1 162.2,152.9 Z" stroke-width="1.00" fill="#fff" />
<path d="M170.6,156.7 Q171.0,156.4 171.4,156.7 L174.4,158.4 Q174.8,158.7 174.4,158.9 L173.5,159.5 Q173.1,159.8 172.7,159.5 L169.7,157.8 Q169.3,157.5 169.7,157.3 Z" stroke-width="1.00" fill="#fff" />
<path d="M178.1,161.1 Q178.5,160.8 179.0,161.1 L181.9,162.8 Q182.3,163.1 181.9,163.3 L181.1,163.9 Q180.7,164.2 180.2,163.9 L177.3,162.2 Q176.9,161.9 177.3,161.7 Z" stroke-width="1.00" fill="#fff" />
<path d="M185.7,165.5 Q186.1,165.2 186.5,165.5 L189.5,167.2 Q189.9,167.5 189.5,167.7 L188.6,168.3 Q188.2,168.6 187.8,168.3 L184.8,166.6 Q184.4,166.3 184.8,166.1 Z" stroke-width="1.00" fill="#fff" />
<path d="M140.5,145.1 Q141.2,144.6 141.8,145.0 L145.8,147.3 Q146.4,147.7 145.8,148.1 L143.1,149.9 Q142.4,150.4 141.8,150.0 L137.8,147.7 Q137.2,147.3 137.8,146.9 Z" stroke-width="1.18" fill="#fff" />
<path d="M144.4,149.0 L143.4,149.7" stroke-width="1.53" fill="none" />
<path d="M148.1,149.5 Q148.7,149.0 149.4,149.4 L153.3,151.7 Q154.0,152.1 153.4,152.5 L150.6,154.3 Q150.0,154.8 149.3,154.4 L145.4,152.1 Q144.7,151.7 145.3,151.3 Z" stroke-width="1.18" fill="#fff" />
<path d="M152.0,153.4 L151.0,154.1" stroke-width="1.53" fill="none" />
<path d="M155.6,153.9 Q156.3,153.4 156.9,153.8 L160.9,156.1 Q161.5,156.5 160.9,156.9 L158.2,158.7 Q157.5,159.2 156.9,158.8 L152.9,156.5 Q152.3,156.1 152.9,155.7 Z" stroke-width="1.18" fill="#fff" />
<path d="M159.5,157.8 L158.5,158.5" stroke-width="1.53" fill="none" />
<path d="M163.2,158.3 Q163.8,157.8 164.5,158.2 L168.4,160.5 Q169.1,160.9 168.5,161.3 L165.7,163.1 Q165.1,163.6 164.4,163.2 L160.5,160.9 Q159.8,160.5 160.4,160.1 Z" stroke-width="1.18" fill="#fff" />
<path d="M167.1,162.2 L166.1,162.9" stroke-width="1.53" fill="none" />
<path d="M170.7,162.7 Q171.4,162.2 172.0,162.6 L176.0,164.9 Q176.6,165.3 176.0,165.7 L173.3,167.5 Q172.6,168.0 172.0,167.6 L168.0,165.3 Q167.4,164.9 168.0,164.5 Z" stroke-width="1.18" fill="#fff" />
<path d="M174.6,166.6 L173.6,167.3" stroke-width="1.53" fill="none" />
<path d="M178.3,167.1 Q178.9,166.6 179.6,167.0 L183.5,169.3 Q184.2,169.7 183.6,170.1 L180.8,171.9 Q180.2,172.4 179.5,172.0 L175.6,169.7 Q174.9,169.3 175.5,168.9 Z" stroke-width="1.18" fill="#fff" />
<path d="M182.2,171.0 L181.2,171.7" stroke-width="1.53" fill="none" />
<path d="M133.8,150.0 Q134.4,149.6 135.0,149.9 L139.0,152.3 Q139.7,152.6 139.0,153.0 L136.0,155.0 Q135.4,155.4 134.8,155.1 L130.8,152.7 Q130.1,152.4 130.8,152.0 Z" stroke-width="1.18" fill="#fff" />
<path d="M137.5,154.0 L136.5,154.7" stroke-width="1.53" fill="none" />
<path d="M141.3,154.4 Q141.9,154.0 142.6,154.3 L146.6,156.7 Q147.2,157.0 146.6,157.4 L143.6,159.4 Q143.0,159.8 142.3,159.5 L138.3,157.1 Q137.7,156.8 138.3,156.4 Z" stroke-width="1.18" fill="#fff" />
<path d="M145.1,158.4 L144.0,159.1" stroke-width="1.53" fill="none" />
<path d="M148.9,158.8 Q149.5,158.4 150.1,158.7 L154.1,161.1 Q154.8,161.4 154.1,161.8 L151.1,163.8 Q150.5,164.2 149.9,163.9 L145.9,161.5 Q145.2,161.2 145.9,160.8 Z" stroke-width="1.18" fill="#fff" />
<path d="M152.6,162.8 L151.6,163.5" stroke-width="1.53" fill="none" />
<path d="M156.4,163.2 Q157.0,162.8 157.7,163.1 L161.7,165.5 Q162.3,165.8 161.7,166.2 L158.7,168.2 Q158.1,168.6 157.4,168.3 L153.4,165.9 Q152.8,165.6 153.4,165.2 Z" stroke-width="1.18" fill="#fff" />
<path d="M160.2,167.2 L159.1,167.9" stroke-width="1.53" fill="none" />
<path d="M164.0,167.6 Q164.6,167.2 165.2,167.5 L169.2,169.9 Q169.9,170.2 169.2,170.6 L166.2,172.6 Q165.6,173.0 165.0,172.7 L161.0,170.3 Q160.3,170.0 161.0,169.6 Z" stroke-width="1.18" fill="#fff" />
<path d="M167.7,171.6 L166.7,172.3" stroke-width="1.53" fill="none" />
<path d="M171.5,172.0 Q172.1,171.6 172.8,171.9 L176.8,174.3 Q177.4,174.6 176.8,175.0 L173.8,177.0 Q173.2,177.4 172.5,177.1 L168.5,174.7 Q167.9,174.4 168.5,174.0 Z" stroke-width="1.18" fill="#fff" />
<path d="M175.3,176.0 L174.2,176.7" stroke-width="1.53" fill="none" />
<path d="M126.9,153.0 Q122.7,156.5 121.7,161.8 Q121.9,163.7 123.7,163.0 Q124.8,157.7 128.9,154.2 Q128.7,152.3 126.9,153.0 Z" stroke-width="1.06" fill="#fff" />
<path d="M134.3,157.5 Q130.2,161.0 129.1,166.3 Q129.4,168.2 131.2,167.5 Q132.2,162.2 136.4,158.7 Q136.1,156.8 134.3,157.5 Z" stroke-width="1.06" fill="#fff" />
<path d="M141.8,162.0 Q137.6,165.5 136.6,170.8 Q136.8,172.7 138.6,172.0 Q139.7,166.7 143.8,163.2 Q143.6,161.3 141.8,162.0 Z" stroke-width="1.06" fill="#fff" />
<path d="M149.2,166.5 Q145.1,170.0 144.0,175.3 Q144.3,177.2 146.1,176.5 Q147.1,171.2 151.3,167.7 Q151.0,165.8 149.2,166.5 Z" stroke-width="1.06" fill="#fff" />
<path d="M156.7,171.0 Q152.5,174.5 151.5,179.8 Q151.7,181.7 153.5,181.0 Q154.6,175.7 158.7,172.2 Q158.5,170.3 156.7,171.0 Z" stroke-width="1.06" fill="#fff" />
<path d="M164.1,175.5 Q160.0,179.0 158.9,184.3 Q159.2,186.2 161.0,185.5 Q162.0,180.2 166.2,176.7 Q165.9,174.8 164.1,175.5 Z" stroke-width="1.06" fill="#fff" />
<path d="M117.9,167.4 L168.6,197.2 L167.6,198.8 L117.2,169.2 Z" stroke-width="1.06" fill="#fff" />
<path d="M116.4,171.9 L170.6,203.2 M116.6,176.2 L117.0,172.2 M119.0,178.0 L172.0,208.4" stroke-width="1.18" fill="none" />
<path d="M170.7,198.6 C170.8,197.2 170.4,193.1 171.2,190.4 C172.0,187.7 173.3,184.8 175.3,182.3 C177.3,179.8 180.4,177.1 183.4,175.2 C186.4,173.3 190.7,171.6 193.6,171.1 C196.5,170.6 199.5,171.9 200.7,172.1" stroke-width="1.30" fill="none" />
<path d="M176.8,197.5 C176.9,196.5 176.5,193.4 177.3,191.4 C178.1,189.4 179.4,187.3 181.4,185.3 C183.4,183.3 187.0,180.5 189.5,179.2 C192.0,177.8 194.7,177.2 196.6,177.2 C198.5,177.2 199.8,177.8 200.7,179.2 C201.6,180.5 201.7,184.3 201.9,185.3" stroke-width="1.18" fill="none" />
<path d="M166.1,190.4 C166.7,189.1 167.8,184.8 169.7,182.3 C171.6,179.8 174.5,177.2 177.3,175.2 C180.1,173.2 184.9,170.9 186.4,170.1" stroke-width="1.06" fill="none" />
<path d="M177.8,198.6 L179.8,190.4 L182.9,188.4 L190.5,184.8 L194.6,181.8 L198.6,182.8 L199.7,186.9 L203.2,187.9 L202.7,193.5 L200.2,196.5 L199.1,199.6 L194.6,204.1 L187.5,207.2 L180.3,207.7 L177.8,204.7 Z" stroke-width="1.59" fill="#fff" />
<path d="M182.6,192.2 L194.8,199.6 M185.0,190.0 L197.4,197.2 M194.6,181.8 L196.2,186.2 L199.7,186.9 M180.3,204.4 L182.6,202.6 L181.4,199.6 L179.2,200.6" stroke-width="1.06" fill="none" />
<path d="M170.7,198.6 L170.9,203.8 L173.6,205.0 L173.8,209.0 M173.6,205.0 L176.8,203.4" stroke-width="1.06" fill="none" />
<path d="M430.5,363.0 C429.8,361.8 427.4,357.8 426.4,354.9 C425.4,352.0 424.4,348.3 424.3,345.4 C424.2,342.5 424.8,339.8 426.1,337.3 C427.4,334.8 429.8,332.1 432.2,330.2 C434.6,328.3 437.4,326.9 440.3,326.1 C443.2,325.3 447.3,325.1 449.5,325.4 C451.7,325.7 451.8,327.0 453.6,328.1 C455.4,329.2 455.7,329.3 460.3,332.1 C465.0,334.8 474.5,340.4 481.6,344.6 C488.8,348.8 498.3,354.4 503.0,357.1 C507.6,359.9 508.3,360.2 509.7,361.1 C511.1,362.0 510.3,361.5 511.7,362.3 C513.0,363.2 515.8,364.9 517.9,366.2 C519.9,367.5 522.7,369.2 524.0,370.1 C525.4,370.9 524.8,370.8 526.0,371.3 C527.2,371.8 530.0,372.1 531.1,372.8 C532.2,373.5 532.5,373.2 532.8,375.3 C533.1,377.4 533.1,382.9 532.8,385.5 C532.5,388.1 531.6,389.6 531.1,390.6 C530.6,391.6 530.6,390.9 529.5,391.6 C528.4,392.2 526.2,393.6 524.5,394.6 C522.8,395.7 520.6,397.1 519.5,397.7 C518.4,398.4 519.0,398.3 517.9,398.7 C516.8,399.1 514.2,400.0 512.8,400.2 C511.4,400.4 510.7,399.6 509.7,399.9 C508.7,400.2 507.9,401.5 506.8,401.8 C505.7,402.1 504.5,402.0 503.2,401.6 C501.9,401.2 499.9,399.8 498.8,399.3 C497.7,398.8 498.2,399.1 496.7,398.5 C495.2,397.9 492.2,396.8 490.0,396.0 C487.8,395.1 484.8,394.0 483.3,393.4 C481.8,392.8 481.9,392.9 481.2,392.6 C480.5,392.3 480.6,392.3 479.3,391.5 C477.9,390.7 475.2,389.2 473.1,388.1 C471.0,386.9 468.3,385.4 466.9,384.6 C465.6,383.8 465.8,384.0 465.0,383.5 C464.2,383.0 464.1,383.0 462.2,381.8 C460.2,380.7 456.3,378.3 453.3,376.6 C450.3,374.8 446.4,372.4 444.4,371.3 C442.5,370.1 442.2,369.6 441.6,369.6 C441.0,369.6 441.2,370.9 440.7,371.2 C440.2,371.5 440.5,372.4 438.7,371.6 C436.9,370.8 431.2,367.5 429.6,366.2 C428.0,364.9 428.9,364.6 429.0,364.0 C429.1,363.4 430.1,362.6 430.4,362.4 C430.6,362.2 431.2,364.2 430.5,363.0 Z" stroke-width="1.77" fill="#fff" />
<path d="M491.9,382.1h0.3M510.6,397.4h0.3M504.6,395.9h0.3M526.7,375.0h0.3M425.7,342.0h0.3M482.8,377.2h0.3M499.2,399.2h0.3M440.1,330.4h0.3M457.0,371.5h0.3M458.6,362.2h0.3M505.7,389.9h0.3M464.0,369.6h0.3M481.2,384.7h0.3M510.8,391.1h0.3M434.2,351.4h0.3M490.6,395.5h0.3M432.8,336.8h0.3M441.8,329.1h0.3M488.7,388.5h0.3M503.7,398.0h0.3M492.7,385.6h0.3M435.9,358.6h0.3M456.3,360.0h0.3M477.3,381.1h0.3M528.4,373.3h0.3M434.0,346.2h0.3M509.1,391.7h0.3M508.4,378.5h0.3M496.3,383.4h0.3M463.7,379.2h0.3M454.8,362.5h0.3M507.8,378.2h0.3M474.5,387.8h0.3M494.5,386.3h0.3M462.0,374.6h0.3M504.4,388.7h0.3M518.7,378.0h0.3M499.3,380.4h0.3M509.0,369.8h0.3M492.0,384.6h0.3M493.4,380.4h0.3M427.3,337.6h0.3M472.2,375.1h0.3M430.2,335.6h0.3M445.3,328.1h0.3M454.5,356.7h0.3M512.5,374.5h0.3M490.3,352.2h0.3M436.0,368.6h0.3M492.6,393.5h0.3M455.4,361.8h0.3M509.1,388.6h0.3M456.5,365.9h0.3M505.1,370.5h0.3M428.3,344.7h0.3M470.7,369.4h0.3M501.1,373.7h0.3M499.7,358.5h0.3M476.2,367.4h0.3M441.0,370.2h0.3M510.2,376.1h0.3M436.0,354.4h0.3M486.7,382.1h0.3M484.5,372.8h0.3M452.9,367.5h0.3M449.7,353.8h0.3M501.7,375.4h0.3M434.2,334.9h0.3M430.1,336.9h0.3M527.6,377.4h0.3M529.8,376.2h0.3M449.8,350.9h0.3M490.9,352.0h0.3M514.5,374.9h0.3M446.3,328.4h0.3M441.8,347.3h0.3M449.8,362.2h0.3M498.9,376.9h0.3M455.9,376.9h0.3M446.1,327.3h0.3M503.8,380.2h0.3M497.2,397.3h0.3M434.5,330.8h0.3M450.7,329.3h0.3M452.0,356.5h0.3M443.8,364.3h0.3M468.0,366.0h0.3M433.5,349.4h0.3M436.0,366.8h0.3M524.3,371.1h0.3M477.1,369.1h0.3M465.2,373.2h0.3M503.0,395.2h0.3M457.7,359.7h0.3M436.9,349.2h0.3M438.4,331.7h0.3M450.9,331.8h0.3M470.8,369.5h0.3M505.9,367.9h0.3M521.5,375.4h0.3M506.7,369.3h0.3M503.3,379.0h0.3M465.8,335.4h0.3M431.5,338.3h0.3M507.2,368.0h0.3M438.4,352.7h0.3M517.6,397.9h0.3M487.7,388.6h0.3M526.1,386.1h0.3M437.1,349.6h0.3M507.6,396.9h0.3M530.9,389.6h0.3M516.5,372.6h0.3M428.4,338.4h0.3M498.4,391.3h0.3M491.9,386.5h0.3M479.8,370.2h0.3M444.3,355.1h0.3M476.0,379.1h0.3M512.8,396.0h0.3M499.5,376.6h0.3M482.5,386.4h0.3M463.7,370.7h0.3M433.8,352.6h0.3M487.3,383.4h0.3M506.0,376.6h0.3M498.9,389.4h0.3M504.4,372.1h0.3M446.9,364.9h0.3M495.2,394.1h0.3M523.1,372.3h0.3M491.8,394.0h0.3M514.4,392.5h0.3M470.5,365.8h0.3M454.8,371.7h0.3M485.3,371.5h0.3M488.8,374.8h0.3M499.2,381.1h0.3M431.0,362.4h0.3M514.9,398.5h0.3M494.3,396.2h0.3M441.3,332.5h0.3M504.2,387.8h0.3M511.5,379.9h0.3M435.5,333.3h0.3M431.3,341.2h0.3M464.9,360.4h0.3M498.1,382.2h0.3M433.4,356.2h0.3M464.9,377.6h0.3M506.7,380.5h0.3M504.3,395.6h0.3M478.4,378.6h0.3M509.9,369.4h0.3M429.8,357.5h0.3" stroke-width="0.9" stroke="#000" stroke-linecap="square"/>
<path d="M428.6,347.6 Q430.6,336.6 446.6,328.6 L447.8,329.8 Q432.4,337.6 430.2,348.2 Z" stroke-width="1.06" fill="#fff" />
<path d="M453.0,330.3 Q453.4,330.0 453.8,330.2 L458.5,333.0 Q458.9,333.2 458.5,333.5 L458.2,333.7 Q457.8,334.0 457.4,333.8 L452.7,331.0 Q452.3,330.8 452.7,330.5 Z" stroke-width="1.00" fill="#fff" />
<path d="M462.9,336.0 Q463.3,335.7 463.7,336.0 L468.4,338.7 Q468.8,339.0 468.4,339.2 L468.1,339.5 Q467.7,339.8 467.3,339.5 L462.6,336.8 Q462.2,336.5 462.6,336.3 Z" stroke-width="1.00" fill="#fff" />
<path d="M472.8,341.8 Q473.2,341.5 473.6,341.7 L478.3,344.5 Q478.7,344.7 478.3,345.0 L478.0,345.2 Q477.6,345.5 477.2,345.3 L472.5,342.5 Q472.1,342.3 472.5,342.0 Z" stroke-width="1.00" fill="#fff" />
<path d="M482.7,347.5 Q483.1,347.2 483.5,347.5 L488.2,350.2 Q488.6,350.5 488.2,350.7 L487.9,351.0 Q487.5,351.3 487.1,351.0 L482.4,348.3 Q482.0,348.0 482.4,347.8 Z" stroke-width="1.00" fill="#fff" />
<path d="M492.6,353.3 Q493.0,353.0 493.4,353.2 L498.1,356.0 Q498.5,356.2 498.1,356.5 L497.8,356.7 Q497.4,357.0 497.0,356.8 L492.3,354.0 Q491.9,353.8 492.3,353.5 Z" stroke-width="1.00" fill="#fff" />
<path d="M502.5,359.0 Q502.9,358.7 503.3,359.0 L508.0,361.7 Q508.4,362.0 508.0,362.2 L507.7,362.5 Q507.3,362.8 506.9,362.5 L502.2,359.8 Q501.8,359.5 502.2,359.3 Z" stroke-width="1.00" fill="#fff" />
<path d="M446.0,331.9 Q446.6,331.4 447.2,331.8 L452.9,335.1 Q453.5,335.5 452.9,335.9 L450.0,337.9 Q449.4,338.4 448.8,338.0 L443.1,334.7 Q442.5,334.3 443.1,333.9 Z" stroke-width="1.18" fill="#fff" />
<path d="M451.5,336.9 L450.4,337.6" stroke-width="1.53" fill="none" />
<path d="M455.9,337.6 Q456.5,337.2 457.1,337.6 L462.8,340.8 Q463.4,341.2 462.8,341.6 L459.9,343.7 Q459.3,344.1 458.7,343.7 L453.0,340.5 Q452.4,340.1 453.0,339.7 Z" stroke-width="1.18" fill="#fff" />
<path d="M461.4,342.7 L460.3,343.4" stroke-width="1.53" fill="none" />
<path d="M465.8,343.4 Q466.4,342.9 467.0,343.3 L472.7,346.6 Q473.3,347.0 472.7,347.4 L469.8,349.4 Q469.2,349.9 468.6,349.5 L462.9,346.2 Q462.3,345.8 462.9,345.4 Z" stroke-width="1.18" fill="#fff" />
<path d="M471.3,348.4 L470.2,349.1" stroke-width="1.53" fill="none" />
<path d="M475.7,349.1 Q476.3,348.7 476.9,349.1 L482.6,352.3 Q483.2,352.7 482.6,353.1 L479.7,355.2 Q479.1,355.6 478.5,355.2 L472.8,352.0 Q472.2,351.6 472.8,351.2 Z" stroke-width="1.18" fill="#fff" />
<path d="M481.2,354.2 L480.1,354.9" stroke-width="1.53" fill="none" />
<path d="M485.6,354.9 Q486.2,354.4 486.8,354.8 L492.5,358.1 Q493.1,358.5 492.5,358.9 L489.6,360.9 Q489.0,361.4 488.4,361.0 L482.7,357.7 Q482.1,357.3 482.7,356.9 Z" stroke-width="1.18" fill="#fff" />
<path d="M491.1,359.9 L490.0,360.6" stroke-width="1.53" fill="none" />
<path d="M495.5,360.6 Q496.1,360.2 496.7,360.6 L502.4,363.8 Q503.0,364.2 502.4,364.6 L499.5,366.7 Q498.9,367.1 498.3,366.7 L492.6,363.5 Q492.0,363.1 492.6,362.7 Z" stroke-width="1.18" fill="#fff" />
<path d="M501.0,365.7 L499.9,366.4" stroke-width="1.53" fill="none" />
<path d="M438.9,336.9 Q439.5,336.5 440.2,336.8 L445.8,340.1 Q446.4,340.5 445.8,340.9 L442.7,343.1 Q442.1,343.5 441.4,343.2 L435.8,339.9 Q435.2,339.5 435.8,339.1 Z" stroke-width="1.18" fill="#fff" />
<path d="M444.3,342.0 L443.2,342.8" stroke-width="1.53" fill="none" />
<path d="M448.8,342.6 Q449.4,342.2 450.1,342.6 L455.7,345.9 Q456.3,346.2 455.7,346.7 L452.6,348.9 Q452.0,349.3 451.3,348.9 L445.7,345.6 Q445.1,345.3 445.7,344.8 Z" stroke-width="1.18" fill="#fff" />
<path d="M454.2,347.8 L453.1,348.5" stroke-width="1.53" fill="none" />
<path d="M458.7,348.4 Q459.3,348.0 460.0,348.3 L465.6,351.6 Q466.2,352.0 465.6,352.4 L462.5,354.6 Q461.9,355.0 461.2,354.7 L455.6,351.4 Q455.0,351.0 455.6,350.6 Z" stroke-width="1.18" fill="#fff" />
<path d="M464.1,353.5 L463.0,354.3" stroke-width="1.53" fill="none" />
<path d="M468.6,354.1 Q469.2,353.7 469.9,354.1 L475.5,357.4 Q476.1,357.7 475.5,358.2 L472.4,360.4 Q471.8,360.8 471.1,360.4 L465.5,357.1 Q464.9,356.8 465.5,356.3 Z" stroke-width="1.18" fill="#fff" />
<path d="M474.0,359.3 L472.9,360.0" stroke-width="1.53" fill="none" />
<path d="M478.5,359.9 Q479.1,359.5 479.8,359.8 L485.4,363.1 Q486.0,363.5 485.4,363.9 L482.3,366.1 Q481.7,366.5 481.0,366.2 L475.4,362.9 Q474.8,362.5 475.4,362.1 Z" stroke-width="1.18" fill="#fff" />
<path d="M483.9,365.0 L482.8,365.8" stroke-width="1.53" fill="none" />
<path d="M488.4,365.6 Q489.0,365.2 489.7,365.6 L495.3,368.9 Q495.9,369.2 495.3,369.7 L492.2,371.9 Q491.6,372.3 490.9,371.9 L485.3,368.6 Q484.7,368.3 485.3,367.8 Z" stroke-width="1.18" fill="#fff" />
<path d="M493.8,370.8 L492.7,371.5" stroke-width="1.53" fill="none" />
<path d="M509.8,365.8 Q510.3,365.4 510.8,365.7 L515.7,368.5 Q516.2,368.8 515.7,369.2 L515.4,369.4 Q514.9,369.8 514.4,369.5 L509.5,366.7 Q509.0,366.4 509.5,366.0 Z" stroke-width="1.06" fill="#fff" />
<path d="M502.1,370.4 Q502.6,370.1 503.1,370.4 L508.3,373.4 Q508.8,373.7 508.4,374.0 L507.9,374.4 Q507.4,374.7 506.9,374.4 L501.7,371.4 Q501.2,371.1 501.6,370.8 Z" stroke-width="1.06" fill="#fff" />
<path d="M497.2,377.8 Q497.6,377.4 498.2,377.7 L502.7,380.3 Q503.2,380.6 502.7,381.0 L502.0,381.4 Q501.6,381.8 501.0,381.5 L496.5,378.9 Q496.0,378.6 496.5,378.2 Z" stroke-width="1.06" fill="#fff" />
<path d="M437.1,348.7 L437.5,352.5 Q438.0,353.4 438.5,352.5 L439.6,349.9" stroke-width="1.18" fill="#fff" />
<path d="M447.0,354.6 L447.4,358.4 Q447.9,359.3 448.4,358.4 L449.5,355.8" stroke-width="1.18" fill="#fff" />
<path d="M456.9,360.5 L457.4,364.3 Q457.9,365.2 458.4,364.3 L459.4,361.7" stroke-width="1.18" fill="#fff" />
<path d="M466.9,366.4 L467.4,370.2 Q467.9,371.1 468.4,370.2 L469.4,367.6" stroke-width="1.18" fill="#fff" />
<path d="M476.9,372.3 L477.3,376.1 Q477.8,377.0 478.3,376.1 L479.4,373.5" stroke-width="1.18" fill="#fff" />
<path d="M486.8,378.2 L487.2,382.0 Q487.8,382.9 488.2,382.0 L489.3,379.4" stroke-width="1.18" fill="#fff" />
<path d="M496.8,384.1 L497.2,387.9 Q497.7,388.8 498.2,387.9 L499.2,385.3" stroke-width="1.18" fill="#fff" />
<path d="M439.6,349.9 L447.0,354.6 M449.5,355.8 L456.9,360.5 M459.4,361.7 L466.9,366.4 M469.4,367.6 L476.9,372.3 M479.4,373.5 L486.8,378.2 M489.3,379.4 L496.8,384.1" stroke-width="1.06" fill="none" />
<path d="M430.6,343.2 L433.6,346.2 L437.0,348.6" stroke-width="1.06" fill="none" />
<path d="M430.7,354.4 L499.8,393.6 L499.0,395.4 L430.2,356.4 Z" stroke-width="1.06" fill="#fff" />
<path d="M505.7,384.6 C506.2,384.1 507.0,382.7 508.7,381.4 C510.4,380.1 513.5,377.9 516.0,376.6 C518.5,375.3 521.5,374.2 524.0,373.6 C526.5,373.0 529.9,372.9 531.1,372.8" stroke-width="1.42" fill="none" />
<path d="M509.8,385.6 C510.3,385.1 511.1,383.6 512.6,382.4 C514.1,381.2 516.5,379.7 518.6,378.6 C520.7,377.5 523.0,376.5 525.0,376.0 C527.0,375.5 529.7,375.5 530.6,375.4" stroke-width="1.06" fill="none" />
<path d="M509.7,385.6 L509.7,399.6 M505.7,384.6 L505.0,398.6" stroke-width="1.18" fill="none" />
<path d="M506.1,17.3 C505.7,15.1 506.2,14.7 507.6,13.2 C509.0,11.7 511.6,9.4 514.2,8.1 C516.8,6.8 520.9,5.4 523.4,5.1 C525.9,4.8 527.4,5.3 529.5,6.1 C531.6,6.9 531.5,7.4 536.1,10.2 C540.8,13.0 550.2,18.8 557.2,23.1 C564.2,27.5 573.6,33.3 578.3,36.1 C582.9,38.9 583.6,39.4 584.9,40.2 C586.2,41.0 585.3,40.4 586.2,41.0 C587.2,41.5 589.1,42.7 590.5,43.5 C591.9,44.3 593.8,45.5 594.8,46.0 C595.7,46.6 595.3,45.9 596.1,46.8 C596.9,47.7 599.0,49.1 599.6,51.4 C600.2,53.7 600.5,57.8 599.8,60.5 C599.0,63.2 596.1,66.3 595.1,67.6 C594.1,68.9 594.7,67.8 593.9,68.3 C593.0,68.8 591.3,69.9 590.0,70.7 C588.7,71.4 587.0,72.5 586.1,73.0 C585.3,73.5 585.8,73.4 584.9,73.7 C584.0,74.0 582.5,75.4 580.8,74.9 C579.1,74.4 576.5,71.8 574.7,70.7 C572.9,69.6 573.3,69.9 570.0,68.2 C566.7,66.5 560.1,63.0 555.2,60.4 C550.2,57.7 543.6,54.2 540.3,52.5 C537.0,50.8 536.6,50.6 535.6,50.0 C534.6,49.4 535.1,49.7 534.0,48.9 C532.9,48.1 530.7,46.5 529.0,45.4 C527.3,44.2 525.1,42.6 524.0,41.8 C522.9,41.0 523.8,42.1 522.4,40.7 C521.0,39.3 517.3,36.0 515.3,33.6 C513.3,31.2 511.7,29.1 510.2,26.4 C508.7,23.7 506.5,19.5 506.1,17.3 Z" stroke-width="1.77" fill="#fff" />
<path d="M514.1,22.4h0.3M514.5,21.4h0.3M541.4,51.2h0.3M552.7,50.5h0.3M590.6,45.7h0.3M519.4,9.6h0.3M560.3,56.0h0.3M553.6,54.1h0.3M531.1,34.7h0.3M522.0,35.5h0.3M527.8,33.7h0.3M515.0,11.1h0.3M553.4,54.5h0.3M507.7,14.9h0.3M542.3,45.1h0.3M596.5,58.1h0.3M547.3,55.7h0.3M574.0,54.5h0.3M527.6,41.8h0.3M591.3,57.0h0.3M533.3,47.9h0.3M585.1,52.9h0.3M593.8,55.9h0.3M583.0,47.3h0.3M531.5,34.4h0.3M596.6,60.3h0.3M582.3,46.7h0.3M579.3,60.5h0.3M542.5,50.8h0.3M592.3,60.0h0.3M590.9,69.7h0.3M587.2,50.7h0.3M592.3,65.1h0.3M583.7,62.0h0.3M516.3,8.7h0.3M558.2,56.5h0.3M518.5,27.9h0.3M589.3,46.0h0.3M590.1,69.5h0.3M526.5,41.9h0.3M577.9,62.7h0.3M546.0,49.1h0.3M562.4,50.9h0.3M594.8,50.5h0.3M528.2,30.6h0.3M509.1,21.3h0.3M566.7,60.0h0.3M579.5,56.9h0.3M560.3,56.5h0.3M540.0,47.0h0.3M542.0,43.3h0.3M516.9,7.7h0.3M575.1,56.6h0.3M560.1,49.8h0.3M519.9,15.3h0.3M562.1,50.9h0.3M524.8,7.0h0.3M543.3,53.5h0.3M530.8,41.6h0.3M581.7,50.8h0.3M587.3,59.6h0.3M552.4,55.1h0.3M513.8,29.2h0.3M580.7,47.7h0.3M531.1,36.1h0.3M584.8,69.4h0.3M517.2,32.1h0.3M586.4,51.5h0.3M547.9,46.9h0.3M594.6,47.5h0.3M551.5,45.6h0.3M535.4,39.1h0.3M580.6,49.0h0.3M577.5,66.5h0.3M556.8,51.7h0.3M553.9,53.7h0.3M591.9,56.5h0.3M580.3,67.7h0.3M539.6,42.0h0.3M557.8,55.0h0.3M557.4,50.6h0.3M523.1,12.2h0.3M517.7,18.0h0.3M551.6,44.8h0.3M516.1,18.6h0.3M551.7,44.7h0.3M508.7,13.9h0.3M554.8,53.3h0.3M561.8,59.9h0.3M550.1,52.3h0.3M513.1,17.8h0.3M558.6,51.7h0.3M586.4,70.8h0.3M592.0,46.4h0.3M519.9,25.2h0.3M558.5,48.4h0.3" stroke-width="0.9" stroke="#000" stroke-linecap="square"/>
<path d="M528.6,8.0 L584.4,42.4 L595.0,48.6" stroke-width="1.18" fill="none" />
<path d="M509.6,17.0 Q513.6,11.2 526.6,8.2" stroke-width="1.06" fill="none" />
<path d="M520.5,11.8 Q521.1,11.3 521.8,11.7 L524.3,13.1 Q525.0,13.5 524.3,14.1 L523.3,15.0 Q522.7,15.5 522.0,15.1 L519.5,13.7 Q518.8,13.3 519.5,12.7 Z" stroke-width="1.18" fill="#fff" />
<path d="M515.0,16.8 Q515.6,16.3 516.3,16.7 L518.7,18.1 Q519.4,18.5 518.8,19.0 L517.6,20.0 Q517.0,20.5 516.3,20.1 L513.9,18.7 Q513.2,18.3 513.8,17.8 Z" stroke-width="1.18" fill="#fff" />
<path d="M532.4,11.9 Q532.8,11.6 533.2,11.8 L537.0,14.1 Q537.5,14.3 537.1,14.6 L536.8,14.9 Q536.4,15.2 536.0,15.0 L532.2,12.7 Q531.7,12.5 532.1,12.2 Z" stroke-width="1.00" fill="#fff" />
<path d="M540.3,16.5 Q540.7,16.2 541.1,16.4 L544.9,18.7 Q545.4,18.9 545.0,19.2 L544.7,19.5 Q544.3,19.8 543.9,19.6 L540.1,17.3 Q539.6,17.1 540.0,16.8 Z" stroke-width="1.00" fill="#fff" />
<path d="M548.2,21.1 Q548.6,20.8 549.0,21.0 L552.8,23.3 Q553.3,23.5 552.9,23.8 L552.6,24.1 Q552.2,24.4 551.8,24.2 L548.0,21.9 Q547.5,21.7 547.9,21.4 Z" stroke-width="1.00" fill="#fff" />
<path d="M556.1,25.7 Q556.5,25.4 556.9,25.6 L560.7,27.9 Q561.2,28.1 560.8,28.4 L560.5,28.7 Q560.1,29.0 559.7,28.8 L555.9,26.5 Q555.4,26.3 555.8,26.0 Z" stroke-width="1.00" fill="#fff" />
<path d="M564.0,30.3 Q564.4,30.0 564.8,30.2 L568.6,32.5 Q569.1,32.7 568.7,33.0 L568.4,33.3 Q568.0,33.6 567.6,33.4 L563.8,31.1 Q563.3,30.9 563.7,30.6 Z" stroke-width="1.00" fill="#fff" />
<path d="M571.9,34.9 Q572.3,34.6 572.7,34.8 L576.5,37.1 Q577.0,37.3 576.6,37.6 L576.3,37.9 Q575.9,38.2 575.5,38.0 L571.7,35.7 Q571.2,35.5 571.6,35.2 Z" stroke-width="1.00" fill="#fff" />
<path d="M579.8,39.5 Q580.2,39.2 580.6,39.4 L584.4,41.7 Q584.9,41.9 584.5,42.2 L584.2,42.5 Q583.8,42.8 583.4,42.6 L579.6,40.3 Q579.1,40.1 579.5,39.8 Z" stroke-width="1.00" fill="#fff" />
<path d="M527.4,14.8 Q528.0,14.3 528.7,14.6 L532.8,17.1 Q533.4,17.4 532.9,17.9 L530.6,19.8 Q530.0,20.3 529.3,20.0 L525.2,17.5 Q524.6,17.2 525.1,16.7 Z" stroke-width="1.18" fill="#fff" />
<path d="M531.7,18.9 L530.9,19.6" stroke-width="1.53" fill="none" />
<path d="M535.3,19.4 Q535.9,18.9 536.6,19.2 L540.7,21.7 Q541.3,22.0 540.8,22.5 L538.5,24.4 Q537.9,24.9 537.2,24.6 L533.1,22.1 Q532.5,21.8 533.0,21.3 Z" stroke-width="1.18" fill="#fff" />
<path d="M539.6,23.5 L538.8,24.2" stroke-width="1.53" fill="none" />
<path d="M543.2,24.0 Q543.8,23.5 544.5,23.8 L548.6,26.3 Q549.2,26.6 548.7,27.1 L546.4,29.0 Q545.8,29.5 545.1,29.2 L541.0,26.7 Q540.4,26.4 540.9,25.9 Z" stroke-width="1.18" fill="#fff" />
<path d="M547.5,28.1 L546.7,28.8" stroke-width="1.53" fill="none" />
<path d="M551.1,28.6 Q551.7,28.1 552.4,28.4 L556.5,30.9 Q557.1,31.2 556.6,31.7 L554.3,33.6 Q553.7,34.1 553.0,33.8 L548.9,31.3 Q548.3,31.0 548.8,30.5 Z" stroke-width="1.18" fill="#fff" />
<path d="M555.4,32.7 L554.6,33.4" stroke-width="1.53" fill="none" />
<path d="M559.0,33.2 Q559.6,32.7 560.3,33.0 L564.4,35.5 Q565.0,35.8 564.5,36.3 L562.2,38.2 Q561.6,38.7 560.9,38.4 L556.8,35.9 Q556.2,35.6 556.7,35.1 Z" stroke-width="1.18" fill="#fff" />
<path d="M563.3,37.3 L562.5,38.0" stroke-width="1.53" fill="none" />
<path d="M566.9,37.8 Q567.5,37.3 568.2,37.6 L572.3,40.1 Q572.9,40.4 572.4,40.9 L570.1,42.8 Q569.5,43.3 568.8,43.0 L564.7,40.5 Q564.1,40.2 564.6,39.7 Z" stroke-width="1.18" fill="#fff" />
<path d="M571.2,41.9 L570.4,42.6" stroke-width="1.53" fill="none" />
<path d="M574.8,42.4 Q575.4,41.9 576.1,42.2 L580.2,44.7 Q580.8,45.0 580.3,45.5 L578.0,47.4 Q577.4,47.9 576.7,47.6 L572.6,45.1 Q572.0,44.8 572.5,44.3 Z" stroke-width="1.18" fill="#fff" />
<path d="M579.1,46.5 L578.3,47.2" stroke-width="1.53" fill="none" />
<path d="M521.4,19.8 Q522.0,19.3 522.6,19.7 L526.8,22.1 Q527.4,22.5 526.8,23.0 L524.4,25.0 Q523.8,25.5 523.2,25.1 L519.0,22.7 Q518.4,22.3 519.0,21.8 Z" stroke-width="1.18" fill="#fff" />
<path d="M525.6,24.0 L524.7,24.7" stroke-width="1.53" fill="none" />
<path d="M529.3,24.4 Q529.9,23.9 530.5,24.3 L534.7,26.7 Q535.3,27.1 534.7,27.6 L532.3,29.6 Q531.7,30.1 531.1,29.7 L526.9,27.3 Q526.3,26.9 526.9,26.4 Z" stroke-width="1.18" fill="#fff" />
<path d="M533.5,28.6 L532.6,29.3" stroke-width="1.53" fill="none" />
<path d="M537.2,29.0 Q537.8,28.5 538.4,28.9 L542.6,31.3 Q543.2,31.7 542.6,32.2 L540.2,34.2 Q539.6,34.7 539.0,34.3 L534.8,31.9 Q534.2,31.5 534.8,31.0 Z" stroke-width="1.18" fill="#fff" />
<path d="M541.4,33.2 L540.5,33.9" stroke-width="1.53" fill="none" />
<path d="M545.1,33.6 Q545.7,33.1 546.3,33.5 L550.5,35.9 Q551.1,36.3 550.5,36.8 L548.1,38.8 Q547.5,39.3 546.9,38.9 L542.7,36.5 Q542.1,36.1 542.7,35.6 Z" stroke-width="1.18" fill="#fff" />
<path d="M549.3,37.8 L548.4,38.5" stroke-width="1.53" fill="none" />
<path d="M553.0,38.2 Q553.6,37.7 554.2,38.1 L558.4,40.5 Q559.0,40.9 558.4,41.4 L556.0,43.4 Q555.4,43.9 554.8,43.5 L550.6,41.1 Q550.0,40.7 550.6,40.2 Z" stroke-width="1.18" fill="#fff" />
<path d="M557.2,42.4 L556.3,43.1" stroke-width="1.53" fill="none" />
<path d="M560.9,42.8 Q561.5,42.3 562.1,42.7 L566.3,45.1 Q566.9,45.5 566.3,46.0 L563.9,48.0 Q563.3,48.5 562.7,48.1 L558.5,45.7 Q557.9,45.3 558.5,44.8 Z" stroke-width="1.18" fill="#fff" />
<path d="M565.1,47.0 L564.2,47.7" stroke-width="1.53" fill="none" />
<path d="M568.8,47.4 Q569.4,46.9 570.0,47.3 L574.2,49.7 Q574.8,50.1 574.2,50.6 L571.8,52.6 Q571.2,53.1 570.6,52.7 L566.4,50.3 Q565.8,49.9 566.4,49.4 Z" stroke-width="1.18" fill="#fff" />
<path d="M573.0,51.6 L572.1,52.3" stroke-width="1.53" fill="none" />
<path d="M511.6,20.6 L515.0,23.6 L519.8,25.8" stroke-width="1.06" fill="none" />
<path d="M521.3,26.6 L522.1,31.5 Q522.6,32.4 523.1,31.5 L524.5,27.8" stroke-width="1.18" fill="#fff" />
<path d="M529.7,31.2 L530.5,36.1 Q531.0,37.0 531.5,36.1 L532.9,32.5" stroke-width="1.18" fill="#fff" />
<path d="M538.1,35.9 L538.9,40.8 Q539.4,41.7 539.9,40.8 L541.3,37.1" stroke-width="1.18" fill="#fff" />
<path d="M546.5,40.5 L547.3,45.4 Q547.8,46.3 548.3,45.4 L549.7,41.8" stroke-width="1.18" fill="#fff" />
<path d="M554.9,45.2 L555.7,50.1 Q556.2,51.0 556.7,50.1 L558.1,46.4" stroke-width="1.18" fill="#fff" />
<path d="M563.3,49.9 L564.1,54.8 Q564.6,55.6 565.1,54.8 L566.5,51.1" stroke-width="1.18" fill="#fff" />
<path d="M571.7,54.5 L572.5,59.4 Q573.0,60.3 573.5,59.4 L574.9,55.7" stroke-width="1.18" fill="#fff" />
<path d="M524.5,27.8 Q527.5,28.2 529.7,31.2 M532.9,32.5 Q535.9,32.9 538.1,35.9 M541.3,37.1 Q544.3,37.5 546.5,40.5 M549.7,41.8 Q552.7,42.1 554.9,45.2 M558.1,46.4 Q561.1,46.8 563.3,49.8 M566.5,51.1 Q569.5,51.5 571.7,54.5" stroke-width="1.06" fill="none" />
<path d="M519.8,25.8 L521.3,26.6" stroke-width="1.06" fill="none" />
<ellipse cx="589.2" cy="60.2" rx="7.8" ry="11.4" transform="rotate(24 589.2 60.2)" stroke-width="1.42" fill="#fff"/>
<path d="M575.2,59.6 L575.2,70.9" stroke-width="1.06" fill="none" />
<path d="M743.6,170.5 C742.9,169.2 741.9,166.6 742.1,164.4 C742.4,162.2 743.2,159.7 745.1,157.3 C747.0,154.9 750.4,151.8 753.3,150.2 C756.2,148.6 759.9,147.9 762.4,147.6 C764.9,147.3 766.1,147.7 768.5,148.6 C770.9,149.5 771.0,150.0 776.6,153.3 C782.3,156.5 793.8,163.1 802.4,168.1 C810.9,173.0 822.4,179.6 828.1,182.8 C833.7,186.1 833.7,186.2 836.2,187.5 C838.7,188.8 841.8,189.5 843.3,190.5 C844.8,191.5 845.3,192.7 845.3,193.6 C845.3,194.5 844.8,195.3 843.3,196.1 C841.8,196.9 838.5,197.5 836.0,198.6 C833.5,199.7 829.8,201.8 828.0,202.7 C826.2,203.6 826.0,203.9 825.0,204.2 C824.0,204.4 824.1,204.2 822.1,204.2 C820.0,204.2 815.9,204.2 812.8,204.2 C809.7,204.2 805.6,204.2 803.5,204.2 C801.5,204.2 801.9,204.4 800.6,204.2 C799.3,203.9 797.0,203.3 795.5,202.7 C794.0,202.1 794.4,202.0 791.8,200.4 C789.3,198.8 784.1,195.5 780.2,193.1 C776.4,190.6 771.2,187.3 768.7,185.7 C766.1,184.1 766.0,184.0 765.0,183.4 C764.0,182.8 764.2,182.9 762.4,181.9 C760.6,180.8 757.0,178.6 754.3,176.9 C751.6,175.3 748.0,173.1 746.2,172.0 C744.4,171.0 744.3,171.8 743.6,170.5 Z" stroke-width="1.77" fill="#fff" />
<path d="M746.3,169.1h0.3M794.3,199.9h0.3M803.0,191.4h0.3M781.7,189.8h0.3M752.6,164.1h0.3M781.2,175.4h0.3M801.8,198.3h0.3M793.4,199.7h0.3M804.9,201.8h0.3M814.9,201.4h0.3M766.5,182.2h0.3M746.5,168.3h0.3M763.6,169.6h0.3M805.2,202.3h0.3M778.7,155.6h0.3M788.7,187.4h0.3M789.2,179.3h0.3M797.4,200.9h0.3M792.7,183.6h0.3M749.2,158.3h0.3M748.8,167.7h0.3M803.0,202.9h0.3M843.9,194.7h0.3M753.1,167.3h0.3M753.5,154.4h0.3M780.5,189.5h0.3M780.2,183.5h0.3M748.1,163.2h0.3M842.8,192.1h0.3M832.6,199.7h0.3M770.6,173.7h0.3M759.7,178.4h0.3M788.2,181.9h0.3M820.7,197.6h0.3M790.7,196.7h0.3M759.0,153.0h0.3M835.8,190.3h0.3M788.7,186.1h0.3M766.0,166.3h0.3M756.0,159.5h0.3M798.2,198.7h0.3M789.9,183.4h0.3M750.9,167.7h0.3M833.8,191.0h0.3M796.9,200.4h0.3M797.8,185.5h0.3M755.5,164.4h0.3M745.8,170.6h0.3M760.0,155.7h0.3M802.0,195.4h0.3M823.6,199.8h0.3M757.8,169.1h0.3M771.6,174.9h0.3M768.3,182.3h0.3M799.6,187.5h0.3M815.2,200.9h0.3M794.5,195.5h0.3M779.7,185.1h0.3M795.3,198.2h0.3M774.4,173.5h0.3M797.1,189.9h0.3M809.0,192.8h0.3M745.2,164.1h0.3M796.5,185.1h0.3M790.9,184.6h0.3M791.1,190.2h0.3M812.4,191.4h0.3M789.9,181.0h0.3M751.3,170.7h0.3M743.4,163.7h0.3M795.6,191.1h0.3M780.5,191.3h0.3M791.3,197.5h0.3M775.7,187.2h0.3M804.9,193.4h0.3M749.3,171.0h0.3M788.7,193.7h0.3" stroke-width="0.9" stroke="#000" stroke-linecap="square"/>
<path d="M767.6,150.2 L835.6,189.4" stroke-width="1.18" fill="none" />
<path d="M745.6,164.0 Q749.0,154.6 764.6,150.0" stroke-width="1.06" fill="none" />
<path d="M757.7,149.3 Q758.3,148.9 759.0,149.3 L762.2,151.0 Q762.9,151.4 762.2,151.9 L761.5,152.3 Q760.9,152.7 760.2,152.3 L757.0,150.6 Q756.3,150.2 757.0,149.7 Z" stroke-width="1.18" fill="#fff" />
<path d="M752.1,153.3 Q752.7,152.8 753.4,153.2 L756.9,155.2 Q757.6,155.6 756.9,156.0 L755.9,156.7 Q755.3,157.2 754.6,156.8 L751.1,154.8 Q750.4,154.4 751.1,154.0 Z" stroke-width="1.18" fill="#fff" />
<path d="M762.1,147.0 Q762.5,146.8 762.9,147.0 L767.1,149.4 Q767.5,149.6 767.1,149.9 L766.7,150.2 Q766.3,150.4 765.9,150.2 L761.7,147.8 Q761.3,147.6 761.7,147.3 Z" stroke-width="1.00" fill="#fff" />
<path d="M771.1,152.1 Q771.5,151.9 771.9,152.1 L776.1,154.5 Q776.5,154.7 776.1,155.0 L775.7,155.3 Q775.3,155.5 774.9,155.3 L770.7,152.9 Q770.3,152.7 770.7,152.4 Z" stroke-width="1.00" fill="#fff" />
<path d="M780.1,157.2 Q780.5,157.0 780.9,157.2 L785.1,159.6 Q785.5,159.8 785.1,160.1 L784.7,160.4 Q784.3,160.6 783.9,160.4 L779.7,158.0 Q779.3,157.8 779.7,157.5 Z" stroke-width="1.00" fill="#fff" />
<path d="M789.1,162.3 Q789.5,162.1 789.9,162.3 L794.1,164.7 Q794.5,164.9 794.1,165.2 L793.7,165.5 Q793.3,165.7 792.9,165.5 L788.7,163.1 Q788.3,162.9 788.7,162.6 Z" stroke-width="1.00" fill="#fff" />
<path d="M798.1,167.4 Q798.5,167.2 798.9,167.4 L803.1,169.8 Q803.5,170.0 803.1,170.3 L802.7,170.6 Q802.3,170.8 801.9,170.6 L797.7,168.2 Q797.3,168.0 797.7,167.7 Z" stroke-width="1.00" fill="#fff" />
<path d="M807.1,172.5 Q807.5,172.3 807.9,172.5 L812.1,174.9 Q812.5,175.1 812.1,175.4 L811.7,175.7 Q811.3,175.9 810.9,175.7 L806.7,173.3 Q806.3,173.1 806.7,172.8 Z" stroke-width="1.00" fill="#fff" />
<path d="M816.1,177.6 Q816.5,177.4 816.9,177.6 L821.1,180.0 Q821.5,180.2 821.1,180.5 L820.7,180.8 Q820.3,181.0 819.9,180.8 L815.7,178.4 Q815.3,178.2 815.7,177.9 Z" stroke-width="1.00" fill="#fff" />
<path d="M825.1,182.7 Q825.5,182.5 825.9,182.7 L830.1,185.1 Q830.5,185.3 830.1,185.6 L829.7,185.9 Q829.3,186.1 828.9,185.9 L824.7,183.5 Q824.3,183.3 824.7,183.0 Z" stroke-width="1.00" fill="#fff" />
<path d="M766.2,153.5 Q766.8,153.1 767.5,153.4 L772.4,156.2 Q773.1,156.6 772.5,157.0 L770.8,158.1 Q770.2,158.5 769.5,158.2 L764.6,155.4 Q763.9,155.0 764.5,154.6 Z" stroke-width="1.18" fill="#fff" />
<path d="M771.6,157.6 L770.9,158.1" stroke-width="1.53" fill="none" />
<path d="M775.2,158.6 Q775.8,158.2 776.5,158.5 L781.4,161.3 Q782.1,161.7 781.5,162.1 L779.8,163.2 Q779.2,163.6 778.5,163.3 L773.6,160.5 Q772.9,160.1 773.5,159.7 Z" stroke-width="1.18" fill="#fff" />
<path d="M780.6,162.7 L779.9,163.2" stroke-width="1.53" fill="none" />
<path d="M784.2,163.7 Q784.8,163.3 785.5,163.6 L790.4,166.4 Q791.1,166.8 790.5,167.2 L788.8,168.3 Q788.2,168.7 787.5,168.4 L782.6,165.6 Q781.9,165.2 782.5,164.8 Z" stroke-width="1.18" fill="#fff" />
<path d="M789.6,167.8 L788.9,168.3" stroke-width="1.53" fill="none" />
<path d="M793.2,168.8 Q793.8,168.4 794.5,168.7 L799.4,171.5 Q800.1,171.9 799.5,172.3 L797.8,173.4 Q797.2,173.8 796.5,173.5 L791.6,170.7 Q790.9,170.3 791.5,169.9 Z" stroke-width="1.18" fill="#fff" />
<path d="M798.6,172.9 L797.9,173.4" stroke-width="1.53" fill="none" />
<path d="M802.2,173.9 Q802.8,173.5 803.5,173.8 L808.4,176.6 Q809.1,177.0 808.5,177.4 L806.8,178.5 Q806.2,178.9 805.5,178.6 L800.6,175.8 Q799.9,175.4 800.5,175.0 Z" stroke-width="1.18" fill="#fff" />
<path d="M807.6,178.0 L806.9,178.5" stroke-width="1.53" fill="none" />
<path d="M811.2,179.0 Q811.8,178.6 812.5,178.9 L817.4,181.7 Q818.1,182.1 817.5,182.5 L815.8,183.6 Q815.2,184.0 814.5,183.7 L809.6,180.9 Q808.9,180.5 809.5,180.1 Z" stroke-width="1.18" fill="#fff" />
<path d="M816.6,183.1 L815.9,183.6" stroke-width="1.53" fill="none" />
<path d="M820.2,184.1 Q820.8,183.7 821.5,184.0 L826.4,186.8 Q827.1,187.2 826.5,187.6 L824.8,188.7 Q824.2,189.1 823.5,188.8 L818.6,186.0 Q817.9,185.6 818.5,185.2 Z" stroke-width="1.18" fill="#fff" />
<path d="M825.6,188.2 L824.9,188.7" stroke-width="1.53" fill="none" />
<path d="M760.7,157.1 Q761.4,156.7 762.0,157.0 L767.0,159.9 Q767.6,160.2 767.0,160.6 L765.1,161.9 Q764.4,162.3 763.8,162.0 L758.8,159.1 Q758.2,158.8 758.8,158.4 Z" stroke-width="1.18" fill="#fff" />
<path d="M766.0,161.3 L765.2,161.8" stroke-width="1.53" fill="none" />
<path d="M769.7,162.2 Q770.4,161.8 771.0,162.1 L776.0,165.0 Q776.6,165.3 776.0,165.7 L774.1,167.0 Q773.4,167.4 772.8,167.1 L767.8,164.2 Q767.2,163.9 767.8,163.5 Z" stroke-width="1.18" fill="#fff" />
<path d="M775.0,166.4 L774.2,166.9" stroke-width="1.53" fill="none" />
<path d="M778.7,167.3 Q779.4,166.9 780.0,167.2 L785.0,170.1 Q785.6,170.4 785.0,170.8 L783.1,172.1 Q782.4,172.5 781.8,172.2 L776.8,169.3 Q776.2,169.0 776.8,168.6 Z" stroke-width="1.18" fill="#fff" />
<path d="M784.0,171.5 L783.2,172.0" stroke-width="1.53" fill="none" />
<path d="M787.7,172.4 Q788.4,172.0 789.0,172.3 L794.0,175.2 Q794.6,175.5 794.0,175.9 L792.1,177.2 Q791.4,177.6 790.8,177.3 L785.8,174.4 Q785.2,174.1 785.8,173.7 Z" stroke-width="1.18" fill="#fff" />
<path d="M793.0,176.6 L792.2,177.1" stroke-width="1.53" fill="none" />
<path d="M796.7,177.5 Q797.4,177.1 798.0,177.4 L803.0,180.3 Q803.6,180.6 803.0,181.0 L801.1,182.3 Q800.4,182.7 799.8,182.4 L794.8,179.5 Q794.2,179.2 794.8,178.8 Z" stroke-width="1.18" fill="#fff" />
<path d="M802.0,181.7 L801.2,182.2" stroke-width="1.53" fill="none" />
<path d="M805.7,182.6 Q806.4,182.2 807.0,182.5 L812.0,185.4 Q812.6,185.7 812.0,186.1 L810.1,187.4 Q809.4,187.8 808.8,187.5 L803.8,184.6 Q803.2,184.3 803.8,183.9 Z" stroke-width="1.18" fill="#fff" />
<path d="M811.0,186.8 L810.2,187.3" stroke-width="1.53" fill="none" />
<path d="M814.7,187.7 Q815.4,187.3 816.0,187.6 L821.0,190.5 Q821.6,190.8 821.0,191.2 L819.1,192.5 Q818.4,192.9 817.8,192.6 L812.8,189.7 Q812.2,189.4 812.8,189.0 Z" stroke-width="1.18" fill="#fff" />
<path d="M820.0,191.9 L819.2,192.4" stroke-width="1.53" fill="none" />
<path d="M751.2,158.6 L751.7,164.4 Q752.2,165.3 752.7,164.4 L754.4,159.8" stroke-width="1.18" fill="#fff" />
<path d="M760.1,163.5 L760.6,169.3 Q761.1,170.2 761.6,169.3 L763.3,164.7" stroke-width="1.18" fill="#fff" />
<path d="M769.0,168.4 L769.5,174.2 Q770.0,175.1 770.5,174.2 L772.2,169.6" stroke-width="1.18" fill="#fff" />
<path d="M777.9,173.3 L778.4,179.1 Q778.9,180.0 779.4,179.1 L781.1,174.5" stroke-width="1.18" fill="#fff" />
<path d="M786.8,178.2 L787.3,184.0 Q787.8,184.9 788.3,184.0 L790.0,179.4" stroke-width="1.18" fill="#fff" />
<path d="M795.7,183.1 L796.2,188.9 Q796.7,189.8 797.2,188.9 L798.9,184.3" stroke-width="1.18" fill="#fff" />
<path d="M804.6,188.0 L805.1,193.8 Q805.6,194.7 806.1,193.8 L807.8,189.2" stroke-width="1.18" fill="#fff" />
<path d="M813.5,192.9 L814.0,198.7 Q814.5,199.6 815.0,198.7 L816.7,194.1" stroke-width="1.18" fill="#fff" />
<path d="M754.4,159.8 L760.1,163.5 M763.3,164.7 L769.0,168.4 M772.2,169.6 L777.9,173.3 M781.1,174.5 L786.8,178.2 M790.0,179.4 L795.7,183.1 M798.9,184.3 L804.6,188.0 M807.8,189.2 L813.5,192.9" stroke-width="1.06" fill="none" />
<path d="M746.6,155.6 L751.2,158.4" stroke-width="1.06" fill="none" />
<path d="M823.0,200.6 Q829.0,193.6 839.4,190.8" stroke-width="1.42" fill="none" />
<path d="M826.6,203.4 Q832.0,197.0 843.3,195.4" stroke-width="1.18" fill="none" />
<path d="M823.0,200.6 L825.0,204.2" stroke-width="1.18" fill="none" />
</svg>
</body></html>
